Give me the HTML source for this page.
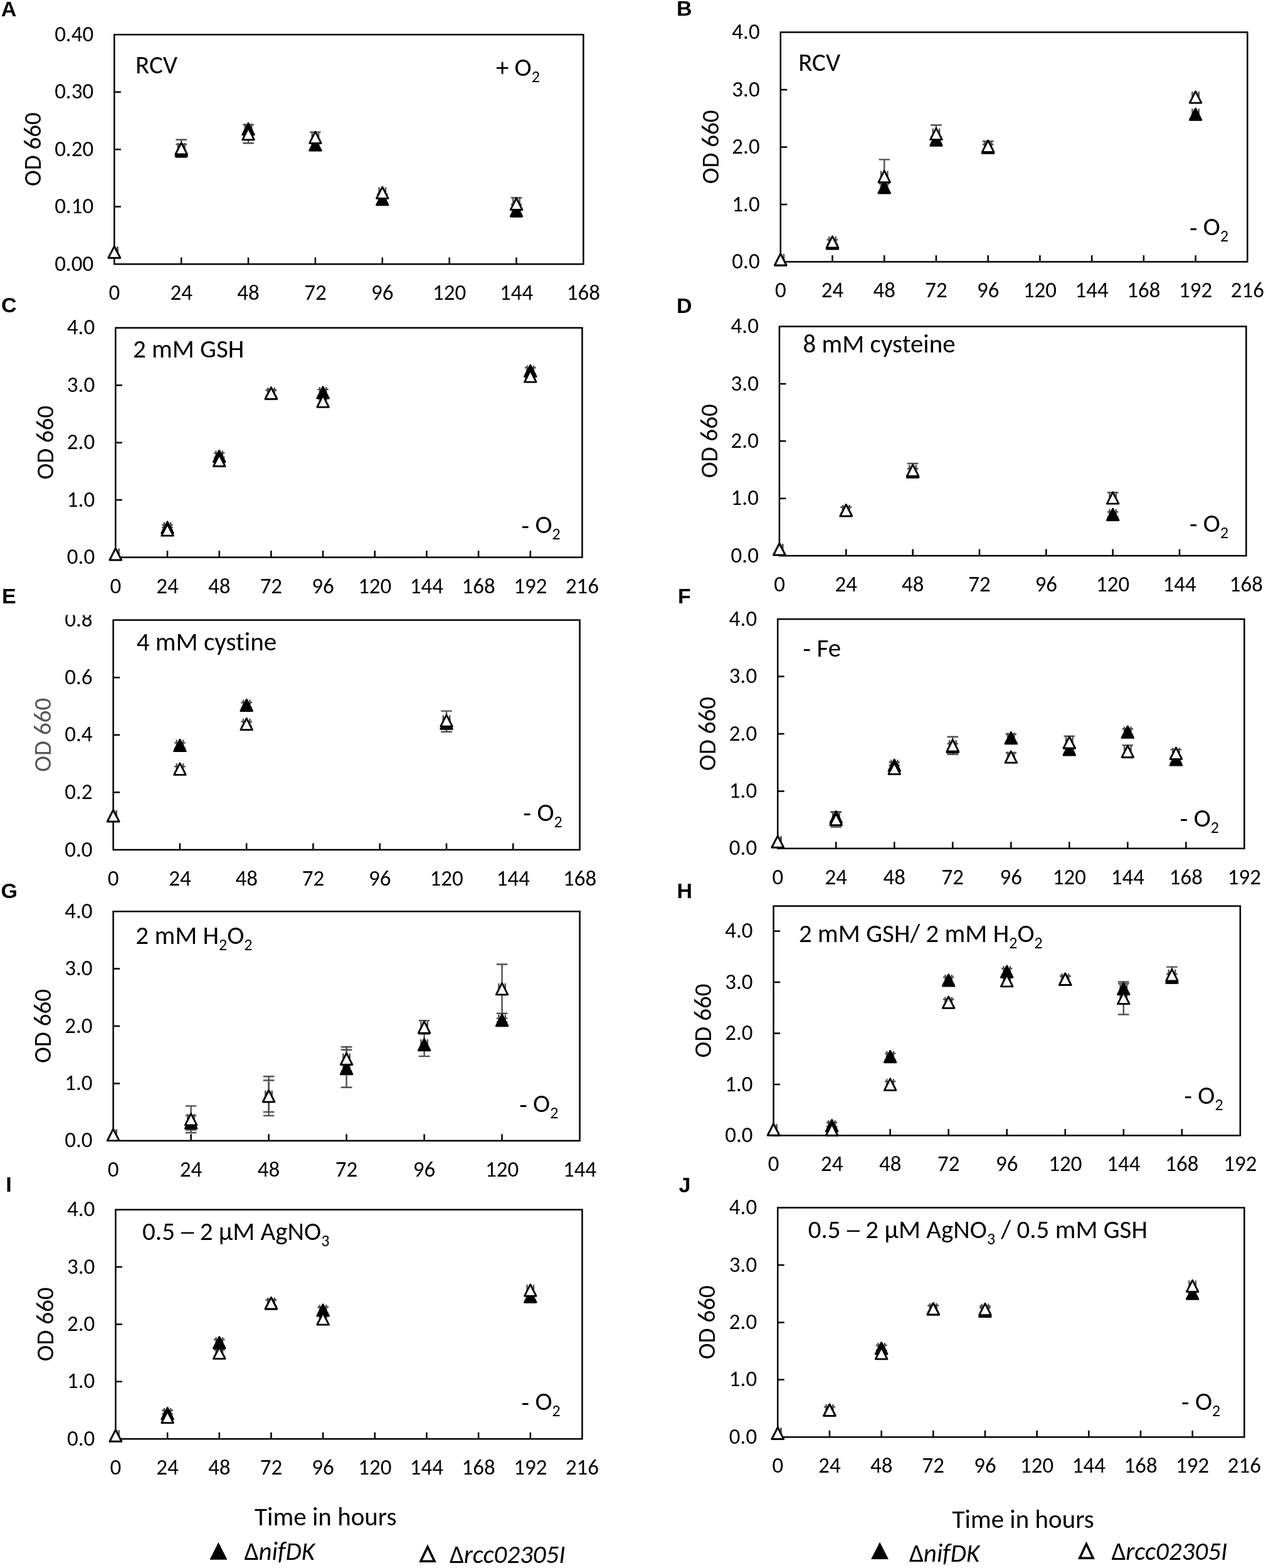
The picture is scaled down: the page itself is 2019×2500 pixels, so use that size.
<!DOCTYPE html>
<html><head><meta charset="utf-8"><title>OD 660 growth curves</title>
<style>html,body{margin:0;padding:0;background:#fff;} svg{display:block;} text{font-variant-ligatures:none;font-feature-settings:'liga' 0,'clig' 0;}</style>
</head><body>
<svg width="2019" height="2500" viewBox="0 0 2019 2500">
<rect width="2019" height="2500" fill="#fff"/>
<text x="1.8" y="25.6" font-size="34" text-anchor="start" fill="#000" font-family="'Liberation Sans', Arial, sans-serif" font-weight="bold">A</text>
<rect x="182.3" y="55.2" width="748.1" height="365.9" fill="none" stroke="#000" stroke-width="2.5" stroke-linejoin="miter"/>
<text x="182.3" y="478.1" font-size="35" text-anchor="middle" fill="#000" font-family="Carlito, 'Liberation Sans', Arial, sans-serif" textLength="17.75" lengthAdjust="spacingAndGlyphs">0</text>
<text x="289.17" y="478.1" font-size="35" text-anchor="middle" fill="#000" font-family="Carlito, 'Liberation Sans', Arial, sans-serif" textLength="35.48" lengthAdjust="spacingAndGlyphs">24</text>
<text x="396.04" y="478.1" font-size="35" text-anchor="middle" fill="#000" font-family="Carlito, 'Liberation Sans', Arial, sans-serif" textLength="35.48" lengthAdjust="spacingAndGlyphs">48</text>
<text x="502.91" y="478.1" font-size="35" text-anchor="middle" fill="#000" font-family="Carlito, 'Liberation Sans', Arial, sans-serif" textLength="35.48" lengthAdjust="spacingAndGlyphs">72</text>
<text x="609.79" y="478.1" font-size="35" text-anchor="middle" fill="#000" font-family="Carlito, 'Liberation Sans', Arial, sans-serif" textLength="35.48" lengthAdjust="spacingAndGlyphs">96</text>
<text x="716.66" y="478.1" font-size="35" text-anchor="middle" fill="#000" font-family="Carlito, 'Liberation Sans', Arial, sans-serif" textLength="53.22" lengthAdjust="spacingAndGlyphs">120</text>
<text x="823.53" y="478.1" font-size="35" text-anchor="middle" fill="#000" font-family="Carlito, 'Liberation Sans', Arial, sans-serif" textLength="53.22" lengthAdjust="spacingAndGlyphs">144</text>
<text x="930.4" y="478.1" font-size="35" text-anchor="middle" fill="#000" font-family="Carlito, 'Liberation Sans', Arial, sans-serif" textLength="53.22" lengthAdjust="spacingAndGlyphs">168</text>
<text x="149.2" y="431.7" font-size="35" text-anchor="end" fill="#000" font-family="Carlito, 'Liberation Sans', Arial, sans-serif" textLength="62.06" lengthAdjust="spacingAndGlyphs">0.00</text>
<text x="149.2" y="340.23" font-size="35" text-anchor="end" fill="#000" font-family="Carlito, 'Liberation Sans', Arial, sans-serif" textLength="62.06" lengthAdjust="spacingAndGlyphs">0.10</text>
<text x="149.2" y="248.75" font-size="35" text-anchor="end" fill="#000" font-family="Carlito, 'Liberation Sans', Arial, sans-serif" textLength="62.06" lengthAdjust="spacingAndGlyphs">0.20</text>
<text x="149.2" y="157.28" font-size="35" text-anchor="end" fill="#000" font-family="Carlito, 'Liberation Sans', Arial, sans-serif" textLength="62.06" lengthAdjust="spacingAndGlyphs">0.30</text>
<text x="149.2" y="65.8" font-size="35" text-anchor="end" fill="#000" font-family="Carlito, 'Liberation Sans', Arial, sans-serif" textLength="62.06" lengthAdjust="spacingAndGlyphs">0.40</text>
<path d="M289.17 421.1V410.6M396.04 421.1V410.6M502.91 421.1V410.6M609.79 421.1V410.6M716.66 421.1V410.6M823.53 421.1V410.6M182.3 329.62H192.8M182.3 238.15H192.8M182.3 146.68H192.8" stroke="#000" stroke-width="2.5" fill="none"/>
<text transform="translate(65.2 238.15) rotate(-90)" font-size="39" text-anchor="middle" fill="#000" font-family="Carlito, 'Liberation Sans', Arial, sans-serif" textLength="117.94" lengthAdjust="spacingAndGlyphs">OD 660</text>
<text x="216.06" y="117" font-size="41" text-anchor="start" fill="#000" font-family="Carlito, 'Liberation Sans', Arial, sans-serif" textLength="67.03" lengthAdjust="spacingAndGlyphs">RCV</text>
<text x="790.9" y="120.5" font-size="41" text-anchor="start" fill="#000" font-family="Carlito, 'Liberation Sans', Arial, sans-serif" textLength="70.03" lengthAdjust="spacingAndGlyphs">+ O<tspan font-size="26" dy="10">2</tspan></text>
<clipPath id="cA"><rect x="182.3" y="55.2" width="748.1" height="365.9"/></clipPath>
<g clip-path="url(#cA)">
<path d="M182.3 402H187.5M187.5 393.2V410.8" stroke="#505050" stroke-width="2.4" fill="none"/>
<path d="M182.3 402H187.5M187.5 393.2V410.8" stroke="#505050" stroke-width="2.4" fill="none"/>
<path d="M283.97 240H294.37M283.97 231.2V248.8M294.37 231.2V248.8M289.17 230V250M280.37 230H297.97M280.37 250H297.97" stroke="#505050" stroke-width="2.4" fill="none"/>
<path d="M283.97 236.8H294.37M283.97 228V245.6M294.37 228V245.6M289.17 222.8V250.8M280.37 222.8H297.97M280.37 250.8H297.97" stroke="#505050" stroke-width="2.4" fill="none"/>
<path d="M390.84 205.7H401.24M390.84 196.9V214.5M401.24 196.9V214.5" stroke="#505050" stroke-width="2.4" fill="none"/>
<path d="M390.84 213.6H401.24M390.84 204.8V222.4M401.24 204.8V222.4M396.04 199V228.2M387.24 199H404.84M387.24 228.2H404.84" stroke="#505050" stroke-width="2.4" fill="none"/>
<path d="M497.71 230.9H508.11M497.71 222.1V239.7M508.11 222.1V239.7" stroke="#505050" stroke-width="2.4" fill="none"/>
<path d="M497.71 219.1H508.11M497.71 210.3V227.9M508.11 210.3V227.9M502.91 210.6V227.6M494.11 210.6H511.71M494.11 227.6H511.71" stroke="#505050" stroke-width="2.4" fill="none"/>
<path d="M604.59 317.7H614.99M604.59 308.9V326.5M614.99 308.9V326.5M609.79 309.7V325.7M600.99 309.7H618.59M600.99 325.7H618.59" stroke="#505050" stroke-width="2.4" fill="none"/>
<path d="M604.59 307.2H614.99M604.59 298.4V316M614.99 298.4V316" stroke="#505050" stroke-width="2.4" fill="none"/>
<path d="M818.33 335.9H828.73M818.33 327.1V344.7M828.73 327.1V344.7M823.53 325.9V345.9M814.73 325.9H832.33M814.73 345.9H832.33" stroke="#505050" stroke-width="2.4" fill="none"/>
<path d="M818.33 325.2H828.73M818.33 316.4V334M828.73 316.4V334M823.53 315.2V335.2M814.73 315.2H832.33M814.73 335.2H832.33" stroke="#505050" stroke-width="2.4" fill="none"/>
</g>
<polygon points="182.3,392.8 191.65,411.2 172.95,411.2" fill="#000" stroke="#000" stroke-width="2.8" stroke-linejoin="round"/>
<polygon points="289.17,230.8 298.52,249.2 279.82,249.2" fill="#000" stroke="#000" stroke-width="2.8" stroke-linejoin="round"/>
<polygon points="396.04,196.5 405.39,214.9 386.69,214.9" fill="#000" stroke="#000" stroke-width="2.8" stroke-linejoin="round"/>
<polygon points="502.91,221.7 512.26,240.1 493.56,240.1" fill="#000" stroke="#000" stroke-width="2.8" stroke-linejoin="round"/>
<polygon points="609.79,308.5 619.14,326.9 600.44,326.9" fill="#000" stroke="#000" stroke-width="2.8" stroke-linejoin="round"/>
<polygon points="823.53,326.7 832.88,345.1 814.18,345.1" fill="#000" stroke="#000" stroke-width="2.8" stroke-linejoin="round"/>
<polygon points="182.3,392.8 191.65,411.2 172.95,411.2" fill="#fff" stroke="#000" stroke-width="2.8" stroke-linejoin="round"/>
<polygon points="289.17,227.6 298.52,246 279.82,246" fill="#fff" stroke="#000" stroke-width="2.8" stroke-linejoin="round"/>
<polygon points="396.04,204.4 405.39,222.8 386.69,222.8" fill="#fff" stroke="#000" stroke-width="2.8" stroke-linejoin="round"/>
<polygon points="502.91,209.9 512.26,228.3 493.56,228.3" fill="#fff" stroke="#000" stroke-width="2.8" stroke-linejoin="round"/>
<polygon points="609.79,298 619.14,316.4 600.44,316.4" fill="#fff" stroke="#000" stroke-width="2.8" stroke-linejoin="round"/>
<polygon points="823.53,316 832.88,334.4 814.18,334.4" fill="#fff" stroke="#000" stroke-width="2.8" stroke-linejoin="round"/>
<text x="1078.93" y="25.3" font-size="34" text-anchor="start" fill="#000" font-family="'Liberation Sans', Arial, sans-serif" font-weight="bold">B</text>
<rect x="1244.8" y="51.4" width="744.6" height="366" fill="none" stroke="#000" stroke-width="2.5" stroke-linejoin="miter"/>
<text x="1244.8" y="474.4" font-size="35" text-anchor="middle" fill="#000" font-family="Carlito, 'Liberation Sans', Arial, sans-serif" textLength="17.75" lengthAdjust="spacingAndGlyphs">0</text>
<text x="1327.53" y="474.4" font-size="35" text-anchor="middle" fill="#000" font-family="Carlito, 'Liberation Sans', Arial, sans-serif" textLength="35.48" lengthAdjust="spacingAndGlyphs">24</text>
<text x="1410.27" y="474.4" font-size="35" text-anchor="middle" fill="#000" font-family="Carlito, 'Liberation Sans', Arial, sans-serif" textLength="35.48" lengthAdjust="spacingAndGlyphs">48</text>
<text x="1493" y="474.4" font-size="35" text-anchor="middle" fill="#000" font-family="Carlito, 'Liberation Sans', Arial, sans-serif" textLength="35.48" lengthAdjust="spacingAndGlyphs">72</text>
<text x="1575.73" y="474.4" font-size="35" text-anchor="middle" fill="#000" font-family="Carlito, 'Liberation Sans', Arial, sans-serif" textLength="35.48" lengthAdjust="spacingAndGlyphs">96</text>
<text x="1658.47" y="474.4" font-size="35" text-anchor="middle" fill="#000" font-family="Carlito, 'Liberation Sans', Arial, sans-serif" textLength="53.22" lengthAdjust="spacingAndGlyphs">120</text>
<text x="1741.2" y="474.4" font-size="35" text-anchor="middle" fill="#000" font-family="Carlito, 'Liberation Sans', Arial, sans-serif" textLength="53.22" lengthAdjust="spacingAndGlyphs">144</text>
<text x="1823.93" y="474.4" font-size="35" text-anchor="middle" fill="#000" font-family="Carlito, 'Liberation Sans', Arial, sans-serif" textLength="53.22" lengthAdjust="spacingAndGlyphs">168</text>
<text x="1906.67" y="474.4" font-size="35" text-anchor="middle" fill="#000" font-family="Carlito, 'Liberation Sans', Arial, sans-serif" textLength="53.22" lengthAdjust="spacingAndGlyphs">192</text>
<text x="1989.4" y="474.4" font-size="35" text-anchor="middle" fill="#000" font-family="Carlito, 'Liberation Sans', Arial, sans-serif" textLength="53.22" lengthAdjust="spacingAndGlyphs">216</text>
<text x="1211.7" y="428" font-size="35" text-anchor="end" fill="#000" font-family="Carlito, 'Liberation Sans', Arial, sans-serif" textLength="44.33" lengthAdjust="spacingAndGlyphs">0.0</text>
<text x="1211.7" y="336.5" font-size="35" text-anchor="end" fill="#000" font-family="Carlito, 'Liberation Sans', Arial, sans-serif" textLength="44.33" lengthAdjust="spacingAndGlyphs">1.0</text>
<text x="1211.7" y="245" font-size="35" text-anchor="end" fill="#000" font-family="Carlito, 'Liberation Sans', Arial, sans-serif" textLength="44.33" lengthAdjust="spacingAndGlyphs">2.0</text>
<text x="1211.7" y="153.5" font-size="35" text-anchor="end" fill="#000" font-family="Carlito, 'Liberation Sans', Arial, sans-serif" textLength="44.33" lengthAdjust="spacingAndGlyphs">3.0</text>
<text x="1211.7" y="62" font-size="35" text-anchor="end" fill="#000" font-family="Carlito, 'Liberation Sans', Arial, sans-serif" textLength="44.33" lengthAdjust="spacingAndGlyphs">4.0</text>
<path d="M1327.53 417.4V406.9M1410.27 417.4V406.9M1493 417.4V406.9M1575.73 417.4V406.9M1658.47 417.4V406.9M1741.2 417.4V406.9M1823.93 417.4V406.9M1906.67 417.4V406.9M1244.8 325.9H1255.3M1244.8 234.4H1255.3M1244.8 142.9H1255.3" stroke="#000" stroke-width="2.5" fill="none"/>
<text transform="translate(1146 234.4) rotate(-90)" font-size="39" text-anchor="middle" fill="#000" font-family="Carlito, 'Liberation Sans', Arial, sans-serif" textLength="117.94" lengthAdjust="spacingAndGlyphs">OD 660</text>
<text x="1273.16" y="112.8" font-size="41" text-anchor="start" fill="#000" font-family="Carlito, 'Liberation Sans', Arial, sans-serif" textLength="67.03" lengthAdjust="spacingAndGlyphs">RCV</text>
<text x="1897" y="375.1" font-size="41" text-anchor="start" fill="#000" font-family="Carlito, 'Liberation Sans', Arial, sans-serif" textLength="62.17" lengthAdjust="spacingAndGlyphs"><tspan dy="1.8">-</tspan><tspan dy="-1.8"> O</tspan><tspan font-size="26" dy="10">2</tspan></text>
<clipPath id="cB"><rect x="1244.8" y="51.4" width="744.6" height="366"/></clipPath>
<g clip-path="url(#cB)">
<path d="M1244.8 413.8H1250M1250 405V422.6" stroke="#505050" stroke-width="2.4" fill="none"/>
<path d="M1244.8 413.8H1250M1250 405V422.6" stroke="#505050" stroke-width="2.4" fill="none"/>
<path d="M1322.33 387.8H1332.73M1322.33 379V396.6M1332.73 379V396.6" stroke="#505050" stroke-width="2.4" fill="none"/>
<path d="M1322.33 385.8H1332.73M1322.33 377V394.6M1332.73 377V394.6M1327.53 382.3V389.3M1318.73 382.3H1336.33M1318.73 389.3H1336.33" stroke="#505050" stroke-width="2.4" fill="none"/>
<path d="M1405.07 298.7H1415.47M1405.07 289.9V307.5M1415.47 289.9V307.5M1410.27 292.7V304.7M1401.47 292.7H1419.07M1401.47 304.7H1419.07" stroke="#505050" stroke-width="2.4" fill="none"/>
<path d="M1405.07 281.4H1415.47M1405.07 272.6V290.2M1415.47 272.6V290.2M1410.27 254.4V308.4M1401.47 254.4H1419.07M1401.47 308.4H1419.07" stroke="#505050" stroke-width="2.4" fill="none"/>
<path d="M1487.8 223.1H1498.2M1487.8 214.3V231.9M1498.2 214.3V231.9M1493 218.1V228.1M1484.2 218.1H1501.8M1484.2 228.1H1501.8" stroke="#505050" stroke-width="2.4" fill="none"/>
<path d="M1487.8 213.5H1498.2M1487.8 204.7V222.3M1498.2 204.7V222.3M1493 199.5V227.5M1484.2 199.5H1501.8M1484.2 227.5H1501.8" stroke="#505050" stroke-width="2.4" fill="none"/>
<path d="M1570.53 235.2H1580.93M1570.53 226.4V244M1580.93 226.4V244M1575.73 230.2V240.2M1566.93 230.2H1584.53M1566.93 240.2H1584.53" stroke="#505050" stroke-width="2.4" fill="none"/>
<path d="M1570.53 233.2H1580.93M1570.53 224.4V242M1580.93 224.4V242M1575.73 225.2V241.2M1566.93 225.2H1584.53M1566.93 241.2H1584.53" stroke="#505050" stroke-width="2.4" fill="none"/>
<path d="M1901.47 182.1H1911.87M1901.47 173.3V190.9M1911.87 173.3V190.9" stroke="#505050" stroke-width="2.4" fill="none"/>
<path d="M1901.47 154.9H1911.87M1901.47 146.1V163.7M1911.87 146.1V163.7" stroke="#505050" stroke-width="2.4" fill="none"/>
</g>
<polygon points="1244.8,404.6 1254.15,423 1235.45,423" fill="#000" stroke="#000" stroke-width="2.8" stroke-linejoin="round"/>
<polygon points="1327.53,378.6 1336.88,397 1318.18,397" fill="#000" stroke="#000" stroke-width="2.8" stroke-linejoin="round"/>
<polygon points="1410.27,289.5 1419.62,307.9 1400.92,307.9" fill="#000" stroke="#000" stroke-width="2.8" stroke-linejoin="round"/>
<polygon points="1493,213.9 1502.35,232.3 1483.65,232.3" fill="#000" stroke="#000" stroke-width="2.8" stroke-linejoin="round"/>
<polygon points="1575.73,226 1585.08,244.4 1566.38,244.4" fill="#000" stroke="#000" stroke-width="2.8" stroke-linejoin="round"/>
<polygon points="1906.67,172.9 1916.02,191.3 1897.32,191.3" fill="#000" stroke="#000" stroke-width="2.8" stroke-linejoin="round"/>
<polygon points="1244.8,404.6 1254.15,423 1235.45,423" fill="#fff" stroke="#000" stroke-width="2.8" stroke-linejoin="round"/>
<polygon points="1327.53,376.6 1336.88,395 1318.18,395" fill="#fff" stroke="#000" stroke-width="2.8" stroke-linejoin="round"/>
<polygon points="1410.27,272.2 1419.62,290.6 1400.92,290.6" fill="#fff" stroke="#000" stroke-width="2.8" stroke-linejoin="round"/>
<polygon points="1493,204.3 1502.35,222.7 1483.65,222.7" fill="#fff" stroke="#000" stroke-width="2.8" stroke-linejoin="round"/>
<polygon points="1575.73,224 1585.08,242.4 1566.38,242.4" fill="#fff" stroke="#000" stroke-width="2.8" stroke-linejoin="round"/>
<polygon points="1906.67,145.7 1916.02,164.1 1897.32,164.1" fill="#fff" stroke="#000" stroke-width="2.8" stroke-linejoin="round"/>
<text x="2.11" y="498.4" font-size="34" text-anchor="start" fill="#000" font-family="'Liberation Sans', Arial, sans-serif" font-weight="bold">C</text>
<rect x="184.3" y="522.7" width="744.2" height="365.9" fill="none" stroke="#000" stroke-width="2.5" stroke-linejoin="miter"/>
<text x="184.3" y="945.6" font-size="35" text-anchor="middle" fill="#000" font-family="Carlito, 'Liberation Sans', Arial, sans-serif" textLength="17.75" lengthAdjust="spacingAndGlyphs">0</text>
<text x="266.99" y="945.6" font-size="35" text-anchor="middle" fill="#000" font-family="Carlito, 'Liberation Sans', Arial, sans-serif" textLength="35.48" lengthAdjust="spacingAndGlyphs">24</text>
<text x="349.68" y="945.6" font-size="35" text-anchor="middle" fill="#000" font-family="Carlito, 'Liberation Sans', Arial, sans-serif" textLength="35.48" lengthAdjust="spacingAndGlyphs">48</text>
<text x="432.37" y="945.6" font-size="35" text-anchor="middle" fill="#000" font-family="Carlito, 'Liberation Sans', Arial, sans-serif" textLength="35.48" lengthAdjust="spacingAndGlyphs">72</text>
<text x="515.06" y="945.6" font-size="35" text-anchor="middle" fill="#000" font-family="Carlito, 'Liberation Sans', Arial, sans-serif" textLength="35.48" lengthAdjust="spacingAndGlyphs">96</text>
<text x="597.74" y="945.6" font-size="35" text-anchor="middle" fill="#000" font-family="Carlito, 'Liberation Sans', Arial, sans-serif" textLength="53.22" lengthAdjust="spacingAndGlyphs">120</text>
<text x="680.43" y="945.6" font-size="35" text-anchor="middle" fill="#000" font-family="Carlito, 'Liberation Sans', Arial, sans-serif" textLength="53.22" lengthAdjust="spacingAndGlyphs">144</text>
<text x="763.12" y="945.6" font-size="35" text-anchor="middle" fill="#000" font-family="Carlito, 'Liberation Sans', Arial, sans-serif" textLength="53.22" lengthAdjust="spacingAndGlyphs">168</text>
<text x="845.81" y="945.6" font-size="35" text-anchor="middle" fill="#000" font-family="Carlito, 'Liberation Sans', Arial, sans-serif" textLength="53.22" lengthAdjust="spacingAndGlyphs">192</text>
<text x="928.5" y="945.6" font-size="35" text-anchor="middle" fill="#000" font-family="Carlito, 'Liberation Sans', Arial, sans-serif" textLength="53.22" lengthAdjust="spacingAndGlyphs">216</text>
<text x="151.2" y="899.2" font-size="35" text-anchor="end" fill="#000" font-family="Carlito, 'Liberation Sans', Arial, sans-serif" textLength="44.33" lengthAdjust="spacingAndGlyphs">0.0</text>
<text x="151.2" y="807.73" font-size="35" text-anchor="end" fill="#000" font-family="Carlito, 'Liberation Sans', Arial, sans-serif" textLength="44.33" lengthAdjust="spacingAndGlyphs">1.0</text>
<text x="151.2" y="716.25" font-size="35" text-anchor="end" fill="#000" font-family="Carlito, 'Liberation Sans', Arial, sans-serif" textLength="44.33" lengthAdjust="spacingAndGlyphs">2.0</text>
<text x="151.2" y="624.78" font-size="35" text-anchor="end" fill="#000" font-family="Carlito, 'Liberation Sans', Arial, sans-serif" textLength="44.33" lengthAdjust="spacingAndGlyphs">3.0</text>
<text x="151.2" y="533.3" font-size="35" text-anchor="end" fill="#000" font-family="Carlito, 'Liberation Sans', Arial, sans-serif" textLength="44.33" lengthAdjust="spacingAndGlyphs">4.0</text>
<path d="M266.99 888.6V878.1M349.68 888.6V878.1M432.37 888.6V878.1M515.06 888.6V878.1M597.74 888.6V878.1M680.43 888.6V878.1M763.12 888.6V878.1M845.81 888.6V878.1M184.3 797.12H194.8M184.3 705.65H194.8M184.3 614.18H194.8" stroke="#000" stroke-width="2.5" fill="none"/>
<text transform="translate(85.1 705.65) rotate(-90)" font-size="39" text-anchor="middle" fill="#000" font-family="Carlito, 'Liberation Sans', Arial, sans-serif" textLength="117.94" lengthAdjust="spacingAndGlyphs">OD 660</text>
<text x="211.96" y="570.3" font-size="41" text-anchor="start" fill="#000" font-family="Carlito, 'Liberation Sans', Arial, sans-serif" textLength="177.38" lengthAdjust="spacingAndGlyphs">2 mM GSH</text>
<text x="831.6" y="850.4" font-size="41" text-anchor="start" fill="#000" font-family="Carlito, 'Liberation Sans', Arial, sans-serif" textLength="62.17" lengthAdjust="spacingAndGlyphs"><tspan dy="1.8">-</tspan><tspan dy="-1.8"> O</tspan><tspan font-size="26" dy="10">2</tspan></text>
<clipPath id="cC"><rect x="184.3" y="522.7" width="744.2" height="365.9"/></clipPath>
<g clip-path="url(#cC)">
<path d="M184.3 883.6H189.5M189.5 874.8V892.4" stroke="#505050" stroke-width="2.4" fill="none"/>
<path d="M184.3 883.6H189.5M189.5 874.8V892.4" stroke="#505050" stroke-width="2.4" fill="none"/>
<path d="M261.79 841H272.19M261.79 832.2V849.8M272.19 832.2V849.8M266.99 837V845M258.19 837H275.79M258.19 845H275.79" stroke="#505050" stroke-width="2.4" fill="none"/>
<path d="M261.79 845H272.19M261.79 836.2V853.8M272.19 836.2V853.8M266.99 841V849M258.19 841H275.79M258.19 849H275.79" stroke="#505050" stroke-width="2.4" fill="none"/>
<path d="M344.48 727.4H354.88M344.48 718.6V736.2M354.88 718.6V736.2M349.68 722.4V732.4M340.88 722.4H358.48M340.88 732.4H358.48" stroke="#505050" stroke-width="2.4" fill="none"/>
<path d="M344.48 734.3H354.88M344.48 725.5V743.1M354.88 725.5V743.1M349.68 729.3V739.3M340.88 729.3H358.48M340.88 739.3H358.48" stroke="#505050" stroke-width="2.4" fill="none"/>
<path d="M427.17 627H437.57M427.17 618.2V635.8M437.57 618.2V635.8M432.37 622V632M423.57 622H441.17M423.57 632H441.17" stroke="#505050" stroke-width="2.4" fill="none"/>
<path d="M427.17 627H437.57M427.17 618.2V635.8M437.57 618.2V635.8M432.37 622V632M423.57 622H441.17M423.57 632H441.17" stroke="#505050" stroke-width="2.4" fill="none"/>
<path d="M509.86 625.9H520.26M509.86 617.1V634.7M520.26 617.1V634.7M515.06 620.9V630.9M506.26 620.9H523.86M506.26 630.9H523.86" stroke="#505050" stroke-width="2.4" fill="none"/>
<path d="M509.86 639.9H520.26M509.86 631.1V648.7M520.26 631.1V648.7M515.06 634.9V644.9M506.26 634.9H523.86M506.26 644.9H523.86" stroke="#505050" stroke-width="2.4" fill="none"/>
<path d="M840.61 591.3H851.01M840.61 582.5V600.1M851.01 582.5V600.1M845.81 586.3V596.3M837.01 586.3H854.61M837.01 596.3H854.61" stroke="#505050" stroke-width="2.4" fill="none"/>
<path d="M840.61 600H851.01M840.61 591.2V608.8M851.01 591.2V608.8M845.81 596V604M837.01 596H854.61M837.01 604H854.61" stroke="#505050" stroke-width="2.4" fill="none"/>
</g>
<polygon points="184.3,874.4 193.65,892.8 174.95,892.8" fill="#000" stroke="#000" stroke-width="2.8" stroke-linejoin="round"/>
<polygon points="266.99,831.8 276.34,850.2 257.64,850.2" fill="#000" stroke="#000" stroke-width="2.8" stroke-linejoin="round"/>
<polygon points="349.68,718.2 359.03,736.6 340.33,736.6" fill="#000" stroke="#000" stroke-width="2.8" stroke-linejoin="round"/>
<polygon points="432.37,617.8 441.72,636.2 423.02,636.2" fill="#000" stroke="#000" stroke-width="2.8" stroke-linejoin="round"/>
<polygon points="515.06,616.7 524.41,635.1 505.71,635.1" fill="#000" stroke="#000" stroke-width="2.8" stroke-linejoin="round"/>
<polygon points="845.81,582.1 855.16,600.5 836.46,600.5" fill="#000" stroke="#000" stroke-width="2.8" stroke-linejoin="round"/>
<polygon points="184.3,874.4 193.65,892.8 174.95,892.8" fill="#fff" stroke="#000" stroke-width="2.8" stroke-linejoin="round"/>
<polygon points="266.99,835.8 276.34,854.2 257.64,854.2" fill="#fff" stroke="#000" stroke-width="2.8" stroke-linejoin="round"/>
<polygon points="349.68,725.1 359.03,743.5 340.33,743.5" fill="#fff" stroke="#000" stroke-width="2.8" stroke-linejoin="round"/>
<polygon points="432.37,617.8 441.72,636.2 423.02,636.2" fill="#fff" stroke="#000" stroke-width="2.8" stroke-linejoin="round"/>
<polygon points="515.06,630.7 524.41,649.1 505.71,649.1" fill="#fff" stroke="#000" stroke-width="2.8" stroke-linejoin="round"/>
<polygon points="845.81,590.8 855.16,609.2 836.46,609.2" fill="#fff" stroke="#000" stroke-width="2.8" stroke-linejoin="round"/>
<text x="1078.93" y="498.8" font-size="34" text-anchor="start" fill="#000" font-family="'Liberation Sans', Arial, sans-serif" font-weight="bold">D</text>
<rect x="1243" y="520.5" width="744.4" height="365.6" fill="none" stroke="#000" stroke-width="2.5" stroke-linejoin="miter"/>
<text x="1243" y="943.1" font-size="35" text-anchor="middle" fill="#000" font-family="Carlito, 'Liberation Sans', Arial, sans-serif" textLength="17.75" lengthAdjust="spacingAndGlyphs">0</text>
<text x="1349.34" y="943.1" font-size="35" text-anchor="middle" fill="#000" font-family="Carlito, 'Liberation Sans', Arial, sans-serif" textLength="35.48" lengthAdjust="spacingAndGlyphs">24</text>
<text x="1455.69" y="943.1" font-size="35" text-anchor="middle" fill="#000" font-family="Carlito, 'Liberation Sans', Arial, sans-serif" textLength="35.48" lengthAdjust="spacingAndGlyphs">48</text>
<text x="1562.03" y="943.1" font-size="35" text-anchor="middle" fill="#000" font-family="Carlito, 'Liberation Sans', Arial, sans-serif" textLength="35.48" lengthAdjust="spacingAndGlyphs">72</text>
<text x="1668.37" y="943.1" font-size="35" text-anchor="middle" fill="#000" font-family="Carlito, 'Liberation Sans', Arial, sans-serif" textLength="35.48" lengthAdjust="spacingAndGlyphs">96</text>
<text x="1774.71" y="943.1" font-size="35" text-anchor="middle" fill="#000" font-family="Carlito, 'Liberation Sans', Arial, sans-serif" textLength="53.22" lengthAdjust="spacingAndGlyphs">120</text>
<text x="1881.06" y="943.1" font-size="35" text-anchor="middle" fill="#000" font-family="Carlito, 'Liberation Sans', Arial, sans-serif" textLength="53.22" lengthAdjust="spacingAndGlyphs">144</text>
<text x="1987.4" y="943.1" font-size="35" text-anchor="middle" fill="#000" font-family="Carlito, 'Liberation Sans', Arial, sans-serif" textLength="53.22" lengthAdjust="spacingAndGlyphs">168</text>
<text x="1209.9" y="896.7" font-size="35" text-anchor="end" fill="#000" font-family="Carlito, 'Liberation Sans', Arial, sans-serif" textLength="44.33" lengthAdjust="spacingAndGlyphs">0.0</text>
<text x="1209.9" y="805.3" font-size="35" text-anchor="end" fill="#000" font-family="Carlito, 'Liberation Sans', Arial, sans-serif" textLength="44.33" lengthAdjust="spacingAndGlyphs">1.0</text>
<text x="1209.9" y="713.9" font-size="35" text-anchor="end" fill="#000" font-family="Carlito, 'Liberation Sans', Arial, sans-serif" textLength="44.33" lengthAdjust="spacingAndGlyphs">2.0</text>
<text x="1209.9" y="622.5" font-size="35" text-anchor="end" fill="#000" font-family="Carlito, 'Liberation Sans', Arial, sans-serif" textLength="44.33" lengthAdjust="spacingAndGlyphs">3.0</text>
<text x="1209.9" y="531.1" font-size="35" text-anchor="end" fill="#000" font-family="Carlito, 'Liberation Sans', Arial, sans-serif" textLength="44.33" lengthAdjust="spacingAndGlyphs">4.0</text>
<path d="M1349.34 886.1V875.6M1455.69 886.1V875.6M1562.03 886.1V875.6M1668.37 886.1V875.6M1774.71 886.1V875.6M1881.06 886.1V875.6M1243 794.7H1253.5M1243 703.3H1253.5M1243 611.9H1253.5" stroke="#000" stroke-width="2.5" fill="none"/>
<text transform="translate(1143.7 703.3) rotate(-90)" font-size="39" text-anchor="middle" fill="#000" font-family="Carlito, 'Liberation Sans', Arial, sans-serif" textLength="117.94" lengthAdjust="spacingAndGlyphs">OD 660</text>
<text x="1280.46" y="561.6" font-size="41" text-anchor="start" fill="#000" font-family="Carlito, 'Liberation Sans', Arial, sans-serif" textLength="243.27" lengthAdjust="spacingAndGlyphs">8 mM cysteine</text>
<text x="1897" y="847.5" font-size="41" text-anchor="start" fill="#000" font-family="Carlito, 'Liberation Sans', Arial, sans-serif" textLength="62.17" lengthAdjust="spacingAndGlyphs"><tspan dy="1.8">-</tspan><tspan dy="-1.8"> O</tspan><tspan font-size="26" dy="10">2</tspan></text>
<clipPath id="cD"><rect x="1243" y="520.5" width="744.4" height="365.6"/></clipPath>
<g clip-path="url(#cD)">
<path d="M1243 875.7H1248.2M1248.2 866.9V884.5" stroke="#505050" stroke-width="2.4" fill="none"/>
<path d="M1243 875.7H1248.2M1248.2 866.9V884.5" stroke="#505050" stroke-width="2.4" fill="none"/>
<path d="M1344.14 813.7H1354.54M1344.14 804.9V822.5M1354.54 804.9V822.5M1349.34 808.7V818.7M1340.54 808.7H1358.14M1340.54 818.7H1358.14" stroke="#505050" stroke-width="2.4" fill="none"/>
<path d="M1344.14 813.7H1354.54M1344.14 804.9V822.5M1354.54 804.9V822.5M1349.34 808.7V818.7M1340.54 808.7H1358.14M1340.54 818.7H1358.14" stroke="#505050" stroke-width="2.4" fill="none"/>
<path d="M1450.49 752.2H1460.89M1450.49 743.4V761M1460.89 743.4V761M1455.69 747.2V757.2M1446.89 747.2H1464.49M1446.89 757.2H1464.49" stroke="#505050" stroke-width="2.4" fill="none"/>
<path d="M1450.49 750H1460.89M1450.49 741.2V758.8M1460.89 741.2V758.8M1455.69 739V761M1446.89 739H1464.49M1446.89 761H1464.49" stroke="#505050" stroke-width="2.4" fill="none"/>
<path d="M1769.51 820.3H1779.91M1769.51 811.5V829.1M1779.91 811.5V829.1M1774.71 816.3V824.3M1765.91 816.3H1783.51M1765.91 824.3H1783.51" stroke="#505050" stroke-width="2.4" fill="none"/>
<path d="M1769.51 794H1779.91M1769.51 785.2V802.8M1779.91 785.2V802.8M1774.71 785.3V802.7M1765.91 785.3H1783.51M1765.91 802.7H1783.51" stroke="#505050" stroke-width="2.4" fill="none"/>
</g>
<polygon points="1243,866.5 1252.35,884.9 1233.65,884.9" fill="#000" stroke="#000" stroke-width="2.8" stroke-linejoin="round"/>
<polygon points="1349.34,804.5 1358.69,822.9 1339.99,822.9" fill="#000" stroke="#000" stroke-width="2.8" stroke-linejoin="round"/>
<polygon points="1455.69,743 1465.04,761.4 1446.34,761.4" fill="#000" stroke="#000" stroke-width="2.8" stroke-linejoin="round"/>
<polygon points="1774.71,811.1 1784.06,829.5 1765.36,829.5" fill="#000" stroke="#000" stroke-width="2.8" stroke-linejoin="round"/>
<polygon points="1243,866.5 1252.35,884.9 1233.65,884.9" fill="#fff" stroke="#000" stroke-width="2.8" stroke-linejoin="round"/>
<polygon points="1349.34,804.5 1358.69,822.9 1339.99,822.9" fill="#fff" stroke="#000" stroke-width="2.8" stroke-linejoin="round"/>
<polygon points="1455.69,740.8 1465.04,759.2 1446.34,759.2" fill="#fff" stroke="#000" stroke-width="2.8" stroke-linejoin="round"/>
<polygon points="1774.71,784.8 1784.06,803.2 1765.36,803.2" fill="#fff" stroke="#000" stroke-width="2.8" stroke-linejoin="round"/>
<text x="2.93" y="962.1" font-size="34" text-anchor="start" fill="#000" font-family="'Liberation Sans', Arial, sans-serif" font-weight="bold">E</text>
<rect x="180.6" y="988.6" width="744" height="366.3" fill="none" stroke="#000" stroke-width="2.5" stroke-linejoin="miter"/>
<text x="180.6" y="1411.9" font-size="35" text-anchor="middle" fill="#000" font-family="Carlito, 'Liberation Sans', Arial, sans-serif" textLength="17.75" lengthAdjust="spacingAndGlyphs">0</text>
<text x="286.89" y="1411.9" font-size="35" text-anchor="middle" fill="#000" font-family="Carlito, 'Liberation Sans', Arial, sans-serif" textLength="35.48" lengthAdjust="spacingAndGlyphs">24</text>
<text x="393.17" y="1411.9" font-size="35" text-anchor="middle" fill="#000" font-family="Carlito, 'Liberation Sans', Arial, sans-serif" textLength="35.48" lengthAdjust="spacingAndGlyphs">48</text>
<text x="499.46" y="1411.9" font-size="35" text-anchor="middle" fill="#000" font-family="Carlito, 'Liberation Sans', Arial, sans-serif" textLength="35.48" lengthAdjust="spacingAndGlyphs">72</text>
<text x="605.74" y="1411.9" font-size="35" text-anchor="middle" fill="#000" font-family="Carlito, 'Liberation Sans', Arial, sans-serif" textLength="35.48" lengthAdjust="spacingAndGlyphs">96</text>
<text x="712.03" y="1411.9" font-size="35" text-anchor="middle" fill="#000" font-family="Carlito, 'Liberation Sans', Arial, sans-serif" textLength="53.22" lengthAdjust="spacingAndGlyphs">120</text>
<text x="818.31" y="1411.9" font-size="35" text-anchor="middle" fill="#000" font-family="Carlito, 'Liberation Sans', Arial, sans-serif" textLength="53.22" lengthAdjust="spacingAndGlyphs">144</text>
<text x="924.6" y="1411.9" font-size="35" text-anchor="middle" fill="#000" font-family="Carlito, 'Liberation Sans', Arial, sans-serif" textLength="53.22" lengthAdjust="spacingAndGlyphs">168</text>
<text x="147.5" y="1365.5" font-size="35" text-anchor="end" fill="#000" font-family="Carlito, 'Liberation Sans', Arial, sans-serif" textLength="44.33" lengthAdjust="spacingAndGlyphs">0.0</text>
<text x="147.5" y="1273.92" font-size="35" text-anchor="end" fill="#000" font-family="Carlito, 'Liberation Sans', Arial, sans-serif" textLength="44.33" lengthAdjust="spacingAndGlyphs">0.2</text>
<text x="147.5" y="1182.35" font-size="35" text-anchor="end" fill="#000" font-family="Carlito, 'Liberation Sans', Arial, sans-serif" textLength="44.33" lengthAdjust="spacingAndGlyphs">0.4</text>
<text x="147.5" y="1090.78" font-size="35" text-anchor="end" fill="#000" font-family="Carlito, 'Liberation Sans', Arial, sans-serif" textLength="44.33" lengthAdjust="spacingAndGlyphs">0.6</text>
<text x="147.5" y="999.2" font-size="35" text-anchor="end" fill="#000" font-family="Carlito, 'Liberation Sans', Arial, sans-serif" textLength="44.33" lengthAdjust="spacingAndGlyphs">0.8</text>
<path d="M286.89 1354.9V1344.4M393.17 1354.9V1344.4M499.46 1354.9V1344.4M605.74 1354.9V1344.4M712.03 1354.9V1344.4M818.31 1354.9V1344.4M180.6 1263.33H191.1M180.6 1171.75H191.1M180.6 1080.18H191.1" stroke="#000" stroke-width="2.5" fill="none"/>
<text transform="translate(81 1171.75) rotate(-90)" font-size="39" text-anchor="middle" fill="#555555" font-family="Carlito, 'Liberation Sans', Arial, sans-serif" textLength="117.94" lengthAdjust="spacingAndGlyphs">OD 660</text>
<text x="217.8" y="1037.2" font-size="41" text-anchor="start" fill="#000" font-family="Carlito, 'Liberation Sans', Arial, sans-serif" textLength="223.31" lengthAdjust="spacingAndGlyphs">4 mM cystine</text>
<text x="834.6" y="1308.6" font-size="41" text-anchor="start" fill="#000" font-family="Carlito, 'Liberation Sans', Arial, sans-serif" textLength="62.17" lengthAdjust="spacingAndGlyphs"><tspan dy="1.8">-</tspan><tspan dy="-1.8"> O</tspan><tspan font-size="26" dy="10">2</tspan></text>
<clipPath id="cE"><rect x="180.6" y="988.6" width="744" height="366.3"/></clipPath>
<g clip-path="url(#cE)">
<path d="M180.6 1300.7H185.8M185.8 1291.9V1309.5" stroke="#505050" stroke-width="2.4" fill="none"/>
<path d="M180.6 1300.7H185.8M185.8 1291.9V1309.5" stroke="#505050" stroke-width="2.4" fill="none"/>
<path d="M281.69 1188.4H292.09M281.69 1179.6V1197.2M292.09 1179.6V1197.2M286.89 1184.4V1192.4M278.09 1184.4H295.69M278.09 1192.4H295.69" stroke="#505050" stroke-width="2.4" fill="none"/>
<path d="M281.69 1226.1H292.09M281.69 1217.3V1234.9M292.09 1217.3V1234.9M286.89 1222.1V1230.1M278.09 1222.1H295.69M278.09 1230.1H295.69" stroke="#505050" stroke-width="2.4" fill="none"/>
<path d="M387.97 1124.3H398.37M387.97 1115.5V1133.1M398.37 1115.5V1133.1M393.17 1120.3V1128.3M384.37 1120.3H401.97M384.37 1128.3H401.97" stroke="#505050" stroke-width="2.4" fill="none"/>
<path d="M387.97 1154.5H398.37M387.97 1145.7V1163.3M398.37 1145.7V1163.3M393.17 1150.5V1158.5M384.37 1150.5H401.97M384.37 1158.5H401.97" stroke="#505050" stroke-width="2.4" fill="none"/>
<path d="M706.83 1153.2H717.23M706.83 1144.4V1162M717.23 1144.4V1162" stroke="#505050" stroke-width="2.4" fill="none"/>
<path d="M706.83 1149H717.23M706.83 1140.2V1157.8M717.23 1140.2V1157.8M712.03 1133.6V1166.8M703.23 1133.6H720.83M703.23 1166.8H720.83" stroke="#505050" stroke-width="2.4" fill="none"/>
</g>
<polygon points="180.6,1291.5 189.95,1309.9 171.25,1309.9" fill="#000" stroke="#000" stroke-width="2.8" stroke-linejoin="round"/>
<polygon points="286.89,1179.2 296.24,1197.6 277.54,1197.6" fill="#000" stroke="#000" stroke-width="2.8" stroke-linejoin="round"/>
<polygon points="393.17,1115.1 402.52,1133.5 383.82,1133.5" fill="#000" stroke="#000" stroke-width="2.8" stroke-linejoin="round"/>
<polygon points="712.03,1144 721.38,1162.4 702.68,1162.4" fill="#000" stroke="#000" stroke-width="2.8" stroke-linejoin="round"/>
<polygon points="180.6,1291.5 189.95,1309.9 171.25,1309.9" fill="#fff" stroke="#000" stroke-width="2.8" stroke-linejoin="round"/>
<polygon points="286.89,1216.9 296.24,1235.3 277.54,1235.3" fill="#fff" stroke="#000" stroke-width="2.8" stroke-linejoin="round"/>
<polygon points="393.17,1145.3 402.52,1163.7 383.82,1163.7" fill="#fff" stroke="#000" stroke-width="2.8" stroke-linejoin="round"/>
<polygon points="712.03,1139.8 721.38,1158.2 702.68,1158.2" fill="#fff" stroke="#000" stroke-width="2.8" stroke-linejoin="round"/>
<rect x="90" y="960" width="70" height="20.6" fill="#fff"/>
<text x="1080.93" y="962.1" font-size="34" text-anchor="start" fill="#000" font-family="'Liberation Sans', Arial, sans-serif" font-weight="bold">F</text>
<rect x="1240.3" y="987.1" width="744.1" height="365.7" fill="none" stroke="#000" stroke-width="2.5" stroke-linejoin="miter"/>
<text x="1240.3" y="1409.8" font-size="35" text-anchor="middle" fill="#000" font-family="Carlito, 'Liberation Sans', Arial, sans-serif" textLength="17.75" lengthAdjust="spacingAndGlyphs">0</text>
<text x="1333.31" y="1409.8" font-size="35" text-anchor="middle" fill="#000" font-family="Carlito, 'Liberation Sans', Arial, sans-serif" textLength="35.48" lengthAdjust="spacingAndGlyphs">24</text>
<text x="1426.33" y="1409.8" font-size="35" text-anchor="middle" fill="#000" font-family="Carlito, 'Liberation Sans', Arial, sans-serif" textLength="35.48" lengthAdjust="spacingAndGlyphs">48</text>
<text x="1519.34" y="1409.8" font-size="35" text-anchor="middle" fill="#000" font-family="Carlito, 'Liberation Sans', Arial, sans-serif" textLength="35.48" lengthAdjust="spacingAndGlyphs">72</text>
<text x="1612.35" y="1409.8" font-size="35" text-anchor="middle" fill="#000" font-family="Carlito, 'Liberation Sans', Arial, sans-serif" textLength="35.48" lengthAdjust="spacingAndGlyphs">96</text>
<text x="1705.36" y="1409.8" font-size="35" text-anchor="middle" fill="#000" font-family="Carlito, 'Liberation Sans', Arial, sans-serif" textLength="53.22" lengthAdjust="spacingAndGlyphs">120</text>
<text x="1798.38" y="1409.8" font-size="35" text-anchor="middle" fill="#000" font-family="Carlito, 'Liberation Sans', Arial, sans-serif" textLength="53.22" lengthAdjust="spacingAndGlyphs">144</text>
<text x="1891.39" y="1409.8" font-size="35" text-anchor="middle" fill="#000" font-family="Carlito, 'Liberation Sans', Arial, sans-serif" textLength="53.22" lengthAdjust="spacingAndGlyphs">168</text>
<text x="1984.4" y="1409.8" font-size="35" text-anchor="middle" fill="#000" font-family="Carlito, 'Liberation Sans', Arial, sans-serif" textLength="53.22" lengthAdjust="spacingAndGlyphs">192</text>
<text x="1207.2" y="1363.4" font-size="35" text-anchor="end" fill="#000" font-family="Carlito, 'Liberation Sans', Arial, sans-serif" textLength="44.33" lengthAdjust="spacingAndGlyphs">0.0</text>
<text x="1207.2" y="1271.97" font-size="35" text-anchor="end" fill="#000" font-family="Carlito, 'Liberation Sans', Arial, sans-serif" textLength="44.33" lengthAdjust="spacingAndGlyphs">1.0</text>
<text x="1207.2" y="1180.55" font-size="35" text-anchor="end" fill="#000" font-family="Carlito, 'Liberation Sans', Arial, sans-serif" textLength="44.33" lengthAdjust="spacingAndGlyphs">2.0</text>
<text x="1207.2" y="1089.12" font-size="35" text-anchor="end" fill="#000" font-family="Carlito, 'Liberation Sans', Arial, sans-serif" textLength="44.33" lengthAdjust="spacingAndGlyphs">3.0</text>
<text x="1207.2" y="997.7" font-size="35" text-anchor="end" fill="#000" font-family="Carlito, 'Liberation Sans', Arial, sans-serif" textLength="44.33" lengthAdjust="spacingAndGlyphs">4.0</text>
<path d="M1333.31 1352.8V1342.3M1426.33 1352.8V1342.3M1519.34 1352.8V1342.3M1612.35 1352.8V1342.3M1705.36 1352.8V1342.3M1798.38 1352.8V1342.3M1891.39 1352.8V1342.3M1240.3 1261.38H1250.8M1240.3 1169.95H1250.8M1240.3 1078.53H1250.8" stroke="#000" stroke-width="2.5" fill="none"/>
<text transform="translate(1140.5 1169.95) rotate(-90)" font-size="39" text-anchor="middle" fill="#000" font-family="Carlito, 'Liberation Sans', Arial, sans-serif" textLength="117.94" lengthAdjust="spacingAndGlyphs">OD 660</text>
<text x="1280.6" y="1046.6" font-size="41" text-anchor="start" fill="#000" font-family="Carlito, 'Liberation Sans', Arial, sans-serif" textLength="60.48" lengthAdjust="spacingAndGlyphs"><tspan dy="1.8">-</tspan><tspan dy="-1.8"> Fe</tspan></text>
<text x="1881.8" y="1317.5" font-size="41" text-anchor="start" fill="#000" font-family="Carlito, 'Liberation Sans', Arial, sans-serif" textLength="62.17" lengthAdjust="spacingAndGlyphs"><tspan dy="1.8">-</tspan><tspan dy="-1.8"> O</tspan><tspan font-size="26" dy="10">2</tspan></text>
<clipPath id="cF"><rect x="1240.3" y="987.1" width="744.1" height="365.7"/></clipPath>
<g clip-path="url(#cF)">
<path d="M1240.3 1342H1245.5M1245.5 1333.2V1350.8" stroke="#505050" stroke-width="2.4" fill="none"/>
<path d="M1240.3 1342H1245.5M1245.5 1333.2V1350.8" stroke="#505050" stroke-width="2.4" fill="none"/>
<path d="M1328.11 1302.6H1338.51M1328.11 1293.8V1311.4M1338.51 1293.8V1311.4M1333.31 1294.6V1310.6M1324.51 1294.6H1342.11M1324.51 1310.6H1342.11" stroke="#505050" stroke-width="2.4" fill="none"/>
<path d="M1328.11 1306.5H1338.51M1328.11 1297.7V1315.3M1338.51 1297.7V1315.3M1333.31 1294.5V1318.5M1324.51 1294.5H1342.11M1324.51 1318.5H1342.11" stroke="#505050" stroke-width="2.4" fill="none"/>
<path d="M1421.12 1220.1H1431.53M1421.12 1211.3V1228.9M1431.53 1211.3V1228.9M1426.33 1215.1V1225.1M1417.53 1215.1H1435.12M1417.53 1225.1H1435.12" stroke="#505050" stroke-width="2.4" fill="none"/>
<path d="M1421.12 1225.2H1431.53M1421.12 1216.4V1234M1431.53 1216.4V1234M1426.33 1220.2V1230.2M1417.53 1220.2H1435.12M1417.53 1230.2H1435.12" stroke="#505050" stroke-width="2.4" fill="none"/>
<path d="M1514.14 1190.6H1524.54M1514.14 1181.8V1199.4M1524.54 1181.8V1199.4M1519.34 1185.6V1195.6M1510.54 1185.6H1528.14M1510.54 1195.6H1528.14" stroke="#505050" stroke-width="2.4" fill="none"/>
<path d="M1514.14 1188.7H1524.54M1514.14 1179.9V1197.5M1524.54 1179.9V1197.5M1519.34 1174.7V1202.7M1510.54 1174.7H1528.14M1510.54 1202.7H1528.14" stroke="#505050" stroke-width="2.4" fill="none"/>
<path d="M1607.15 1176.7H1617.55M1607.15 1167.9V1185.5M1617.55 1167.9V1185.5M1612.35 1170.7V1182.7M1603.55 1170.7H1621.15M1603.55 1182.7H1621.15" stroke="#505050" stroke-width="2.4" fill="none"/>
<path d="M1607.15 1207H1617.55M1607.15 1198.2V1215.8M1617.55 1198.2V1215.8M1612.35 1200.4V1213.6M1603.55 1200.4H1621.15M1603.55 1213.6H1621.15" stroke="#505050" stroke-width="2.4" fill="none"/>
<path d="M1700.16 1194.8H1710.56M1700.16 1186V1203.6M1710.56 1186V1203.6M1705.36 1189.8V1199.8M1696.56 1189.8H1714.16M1696.56 1199.8H1714.16" stroke="#505050" stroke-width="2.4" fill="none"/>
<path d="M1700.16 1183.8H1710.56M1700.16 1175V1192.6M1710.56 1175V1192.6M1705.36 1173.8V1193.8M1696.56 1173.8H1714.16M1696.56 1193.8H1714.16" stroke="#505050" stroke-width="2.4" fill="none"/>
<path d="M1793.17 1167.2H1803.58M1793.17 1158.4V1176M1803.58 1158.4V1176M1798.38 1162.2V1172.2M1789.58 1162.2H1807.17M1789.58 1172.2H1807.17" stroke="#505050" stroke-width="2.4" fill="none"/>
<path d="M1793.17 1198.1H1803.58M1793.17 1189.3V1206.9M1803.58 1189.3V1206.9M1798.38 1188.1V1208.1M1789.58 1188.1H1807.17M1789.58 1208.1H1807.17" stroke="#505050" stroke-width="2.4" fill="none"/>
<path d="M1870.3 1210.8H1880.7M1870.3 1202V1219.6M1880.7 1202V1219.6M1875.5 1205.8V1215.8M1866.7 1205.8H1884.3M1866.7 1215.8H1884.3" stroke="#505050" stroke-width="2.4" fill="none"/>
<path d="M1870.3 1201.1H1880.7M1870.3 1192.3V1209.9M1880.7 1192.3V1209.9M1875.5 1195.1V1207.1M1866.7 1195.1H1884.3M1866.7 1207.1H1884.3" stroke="#505050" stroke-width="2.4" fill="none"/>
</g>
<polygon points="1240.3,1332.8 1249.65,1351.2 1230.95,1351.2" fill="#000" stroke="#000" stroke-width="2.8" stroke-linejoin="round"/>
<polygon points="1333.31,1293.4 1342.66,1311.8 1323.96,1311.8" fill="#000" stroke="#000" stroke-width="2.8" stroke-linejoin="round"/>
<polygon points="1426.33,1210.9 1435.67,1229.3 1416.98,1229.3" fill="#000" stroke="#000" stroke-width="2.8" stroke-linejoin="round"/>
<polygon points="1519.34,1181.4 1528.69,1199.8 1509.99,1199.8" fill="#000" stroke="#000" stroke-width="2.8" stroke-linejoin="round"/>
<polygon points="1612.35,1167.5 1621.7,1185.9 1603,1185.9" fill="#000" stroke="#000" stroke-width="2.8" stroke-linejoin="round"/>
<polygon points="1705.36,1185.6 1714.71,1204 1696.01,1204" fill="#000" stroke="#000" stroke-width="2.8" stroke-linejoin="round"/>
<polygon points="1798.38,1158 1807.72,1176.4 1789.03,1176.4" fill="#000" stroke="#000" stroke-width="2.8" stroke-linejoin="round"/>
<polygon points="1875.5,1201.6 1884.85,1220 1866.15,1220" fill="#000" stroke="#000" stroke-width="2.8" stroke-linejoin="round"/>
<polygon points="1240.3,1332.8 1249.65,1351.2 1230.95,1351.2" fill="#fff" stroke="#000" stroke-width="2.8" stroke-linejoin="round"/>
<polygon points="1333.31,1297.3 1342.66,1315.7 1323.96,1315.7" fill="#fff" stroke="#000" stroke-width="2.8" stroke-linejoin="round"/>
<polygon points="1426.33,1216 1435.67,1234.4 1416.98,1234.4" fill="#fff" stroke="#000" stroke-width="2.8" stroke-linejoin="round"/>
<polygon points="1519.34,1179.5 1528.69,1197.9 1509.99,1197.9" fill="#fff" stroke="#000" stroke-width="2.8" stroke-linejoin="round"/>
<polygon points="1612.35,1197.8 1621.7,1216.2 1603,1216.2" fill="#fff" stroke="#000" stroke-width="2.8" stroke-linejoin="round"/>
<polygon points="1705.36,1174.6 1714.71,1193 1696.01,1193" fill="#fff" stroke="#000" stroke-width="2.8" stroke-linejoin="round"/>
<polygon points="1798.38,1188.9 1807.72,1207.3 1789.03,1207.3" fill="#fff" stroke="#000" stroke-width="2.8" stroke-linejoin="round"/>
<polygon points="1875.5,1191.9 1884.85,1210.3 1866.15,1210.3" fill="#fff" stroke="#000" stroke-width="2.8" stroke-linejoin="round"/>
<text x="1.51" y="1431.8" font-size="34" text-anchor="start" fill="#000" font-family="'Liberation Sans', Arial, sans-serif" font-weight="bold">G</text>
<rect x="180.6" y="1453.2" width="744" height="365.6" fill="none" stroke="#000" stroke-width="2.5" stroke-linejoin="miter"/>
<text x="180.6" y="1875.8" font-size="35" text-anchor="middle" fill="#000" font-family="Carlito, 'Liberation Sans', Arial, sans-serif" textLength="17.75" lengthAdjust="spacingAndGlyphs">0</text>
<text x="304.6" y="1875.8" font-size="35" text-anchor="middle" fill="#000" font-family="Carlito, 'Liberation Sans', Arial, sans-serif" textLength="35.48" lengthAdjust="spacingAndGlyphs">24</text>
<text x="428.6" y="1875.8" font-size="35" text-anchor="middle" fill="#000" font-family="Carlito, 'Liberation Sans', Arial, sans-serif" textLength="35.48" lengthAdjust="spacingAndGlyphs">48</text>
<text x="552.6" y="1875.8" font-size="35" text-anchor="middle" fill="#000" font-family="Carlito, 'Liberation Sans', Arial, sans-serif" textLength="35.48" lengthAdjust="spacingAndGlyphs">72</text>
<text x="676.6" y="1875.8" font-size="35" text-anchor="middle" fill="#000" font-family="Carlito, 'Liberation Sans', Arial, sans-serif" textLength="35.48" lengthAdjust="spacingAndGlyphs">96</text>
<text x="800.6" y="1875.8" font-size="35" text-anchor="middle" fill="#000" font-family="Carlito, 'Liberation Sans', Arial, sans-serif" textLength="53.22" lengthAdjust="spacingAndGlyphs">120</text>
<text x="924.6" y="1875.8" font-size="35" text-anchor="middle" fill="#000" font-family="Carlito, 'Liberation Sans', Arial, sans-serif" textLength="53.22" lengthAdjust="spacingAndGlyphs">144</text>
<text x="147.5" y="1829.4" font-size="35" text-anchor="end" fill="#000" font-family="Carlito, 'Liberation Sans', Arial, sans-serif" textLength="44.33" lengthAdjust="spacingAndGlyphs">0.0</text>
<text x="147.5" y="1738" font-size="35" text-anchor="end" fill="#000" font-family="Carlito, 'Liberation Sans', Arial, sans-serif" textLength="44.33" lengthAdjust="spacingAndGlyphs">1.0</text>
<text x="147.5" y="1646.6" font-size="35" text-anchor="end" fill="#000" font-family="Carlito, 'Liberation Sans', Arial, sans-serif" textLength="44.33" lengthAdjust="spacingAndGlyphs">2.0</text>
<text x="147.5" y="1555.2" font-size="35" text-anchor="end" fill="#000" font-family="Carlito, 'Liberation Sans', Arial, sans-serif" textLength="44.33" lengthAdjust="spacingAndGlyphs">3.0</text>
<text x="147.5" y="1463.8" font-size="35" text-anchor="end" fill="#000" font-family="Carlito, 'Liberation Sans', Arial, sans-serif" textLength="44.33" lengthAdjust="spacingAndGlyphs">4.0</text>
<path d="M304.6 1818.8V1808.3M428.6 1818.8V1808.3M552.6 1818.8V1808.3M676.6 1818.8V1808.3M800.6 1818.8V1808.3M180.6 1727.4H191.1M180.6 1636H191.1M180.6 1544.6H191.1" stroke="#000" stroke-width="2.5" fill="none"/>
<text transform="translate(81 1636) rotate(-90)" font-size="39" text-anchor="middle" fill="#000" font-family="Carlito, 'Liberation Sans', Arial, sans-serif" textLength="117.94" lengthAdjust="spacingAndGlyphs">OD 660</text>
<text x="216.36" y="1504.7" font-size="41" text-anchor="start" fill="#000" font-family="Carlito, 'Liberation Sans', Arial, sans-serif" textLength="186.20" lengthAdjust="spacingAndGlyphs">2 mM H<tspan font-size="26" dy="10">2</tspan><tspan dy="-10">O</tspan><tspan font-size="26" dy="10">2</tspan></text>
<text x="828.2" y="1772.8" font-size="41" text-anchor="start" fill="#000" font-family="Carlito, 'Liberation Sans', Arial, sans-serif" textLength="62.17" lengthAdjust="spacingAndGlyphs"><tspan dy="1.8">-</tspan><tspan dy="-1.8"> O</tspan><tspan font-size="26" dy="10">2</tspan></text>
<clipPath id="cG"><rect x="180.6" y="1453.2" width="744" height="365.6"/></clipPath>
<g clip-path="url(#cG)">
<path d="M180.6 1809.4H185.8M185.8 1800.6V1818.2" stroke="#505050" stroke-width="2.4" fill="none"/>
<path d="M180.6 1809.4H185.8M185.8 1800.6V1818.2" stroke="#505050" stroke-width="2.4" fill="none"/>
<path d="M299.4 1790.1H309.8M299.4 1781.3V1798.9M309.8 1781.3V1798.9M304.6 1778.6V1801.6M295.8 1778.6H313.4M295.8 1801.6H313.4" stroke="#505050" stroke-width="2.4" fill="none"/>
<path d="M299.4 1784.7H309.8M299.4 1775.9V1793.5M309.8 1775.9V1793.5M304.6 1763.4V1806M295.8 1763.4H313.4M295.8 1806H313.4" stroke="#505050" stroke-width="2.4" fill="none"/>
<path d="M423.4 1747.7H433.8M423.4 1738.9V1756.5M433.8 1738.9V1756.5M428.6 1722.5V1772.9M419.8 1722.5H437.4M419.8 1772.9H437.4" stroke="#505050" stroke-width="2.4" fill="none"/>
<path d="M423.4 1747.6H433.8M423.4 1738.8V1756.4M433.8 1738.8V1756.4M428.6 1716.3V1778.9M419.8 1716.3H437.4M419.8 1778.9H437.4" stroke="#505050" stroke-width="2.4" fill="none"/>
<path d="M547.4 1703.7H557.8M547.4 1694.9V1712.5M557.8 1694.9V1712.5M552.6 1673.7V1733.7M543.8 1673.7H561.4M543.8 1733.7H561.4" stroke="#505050" stroke-width="2.4" fill="none"/>
<path d="M547.4 1688.3H557.8M547.4 1679.5V1697.1M557.8 1679.5V1697.1M552.6 1669.3V1707.3M543.8 1669.3H561.4M543.8 1707.3H561.4" stroke="#505050" stroke-width="2.4" fill="none"/>
<path d="M671.4 1665.7H681.8M671.4 1656.9V1674.5M681.8 1656.9V1674.5M676.6 1647.3V1684.1M667.8 1647.3H685.4M667.8 1684.1H685.4" stroke="#505050" stroke-width="2.4" fill="none"/>
<path d="M671.4 1637.9H681.8M671.4 1629.1V1646.7M681.8 1629.1V1646.7M676.6 1627.3V1648.5M667.8 1627.3H685.4M667.8 1648.5H685.4" stroke="#505050" stroke-width="2.4" fill="none"/>
<path d="M795.4 1626.6H805.8M795.4 1617.8V1635.4M805.8 1617.8V1635.4M800.6 1623.6V1629.6M791.8 1623.6H809.4M791.8 1629.6H809.4" stroke="#505050" stroke-width="2.4" fill="none"/>
<path d="M795.4 1576.6H805.8M795.4 1567.8V1585.4M805.8 1567.8V1585.4M800.6 1537.5V1615.7M791.8 1537.5H809.4M791.8 1615.7H809.4" stroke="#505050" stroke-width="2.4" fill="none"/>
</g>
<polygon points="180.6,1800.2 189.95,1818.6 171.25,1818.6" fill="#000" stroke="#000" stroke-width="2.8" stroke-linejoin="round"/>
<polygon points="304.6,1780.9 313.95,1799.3 295.25,1799.3" fill="#000" stroke="#000" stroke-width="2.8" stroke-linejoin="round"/>
<polygon points="428.6,1738.5 437.95,1756.9 419.25,1756.9" fill="#000" stroke="#000" stroke-width="2.8" stroke-linejoin="round"/>
<polygon points="552.6,1694.5 561.95,1712.9 543.25,1712.9" fill="#000" stroke="#000" stroke-width="2.8" stroke-linejoin="round"/>
<polygon points="676.6,1656.5 685.95,1674.9 667.25,1674.9" fill="#000" stroke="#000" stroke-width="2.8" stroke-linejoin="round"/>
<polygon points="800.6,1617.4 809.95,1635.8 791.25,1635.8" fill="#000" stroke="#000" stroke-width="2.8" stroke-linejoin="round"/>
<polygon points="180.6,1800.2 189.95,1818.6 171.25,1818.6" fill="#fff" stroke="#000" stroke-width="2.8" stroke-linejoin="round"/>
<polygon points="304.6,1775.5 313.95,1793.9 295.25,1793.9" fill="#fff" stroke="#000" stroke-width="2.8" stroke-linejoin="round"/>
<polygon points="428.6,1738.4 437.95,1756.8 419.25,1756.8" fill="#fff" stroke="#000" stroke-width="2.8" stroke-linejoin="round"/>
<polygon points="552.6,1679.1 561.95,1697.5 543.25,1697.5" fill="#fff" stroke="#000" stroke-width="2.8" stroke-linejoin="round"/>
<polygon points="676.6,1628.7 685.95,1647.1 667.25,1647.1" fill="#fff" stroke="#000" stroke-width="2.8" stroke-linejoin="round"/>
<polygon points="800.6,1567.4 809.95,1585.8 791.25,1585.8" fill="#fff" stroke="#000" stroke-width="2.8" stroke-linejoin="round"/>
<text x="1079.43" y="1431.5" font-size="34" text-anchor="start" fill="#000" font-family="'Liberation Sans', Arial, sans-serif" font-weight="bold">H</text>
<rect x="1233.6" y="1444.6" width="744.3" height="365.8" fill="none" stroke="#000" stroke-width="2.5" stroke-linejoin="miter"/>
<text x="1233.6" y="1867.4" font-size="35" text-anchor="middle" fill="#000" font-family="Carlito, 'Liberation Sans', Arial, sans-serif" textLength="17.75" lengthAdjust="spacingAndGlyphs">0</text>
<text x="1326.64" y="1867.4" font-size="35" text-anchor="middle" fill="#000" font-family="Carlito, 'Liberation Sans', Arial, sans-serif" textLength="35.48" lengthAdjust="spacingAndGlyphs">24</text>
<text x="1419.67" y="1867.4" font-size="35" text-anchor="middle" fill="#000" font-family="Carlito, 'Liberation Sans', Arial, sans-serif" textLength="35.48" lengthAdjust="spacingAndGlyphs">48</text>
<text x="1512.71" y="1867.4" font-size="35" text-anchor="middle" fill="#000" font-family="Carlito, 'Liberation Sans', Arial, sans-serif" textLength="35.48" lengthAdjust="spacingAndGlyphs">72</text>
<text x="1605.75" y="1867.4" font-size="35" text-anchor="middle" fill="#000" font-family="Carlito, 'Liberation Sans', Arial, sans-serif" textLength="35.48" lengthAdjust="spacingAndGlyphs">96</text>
<text x="1698.79" y="1867.4" font-size="35" text-anchor="middle" fill="#000" font-family="Carlito, 'Liberation Sans', Arial, sans-serif" textLength="53.22" lengthAdjust="spacingAndGlyphs">120</text>
<text x="1791.83" y="1867.4" font-size="35" text-anchor="middle" fill="#000" font-family="Carlito, 'Liberation Sans', Arial, sans-serif" textLength="53.22" lengthAdjust="spacingAndGlyphs">144</text>
<text x="1884.86" y="1867.4" font-size="35" text-anchor="middle" fill="#000" font-family="Carlito, 'Liberation Sans', Arial, sans-serif" textLength="53.22" lengthAdjust="spacingAndGlyphs">168</text>
<text x="1977.9" y="1867.4" font-size="35" text-anchor="middle" fill="#000" font-family="Carlito, 'Liberation Sans', Arial, sans-serif" textLength="53.22" lengthAdjust="spacingAndGlyphs">192</text>
<text x="1200.5" y="1821" font-size="35" text-anchor="end" fill="#000" font-family="Carlito, 'Liberation Sans', Arial, sans-serif" textLength="44.33" lengthAdjust="spacingAndGlyphs">0.0</text>
<text x="1200.5" y="1739.55" font-size="35" text-anchor="end" fill="#000" font-family="Carlito, 'Liberation Sans', Arial, sans-serif" textLength="44.33" lengthAdjust="spacingAndGlyphs">1.0</text>
<text x="1200.5" y="1658.1" font-size="35" text-anchor="end" fill="#000" font-family="Carlito, 'Liberation Sans', Arial, sans-serif" textLength="44.33" lengthAdjust="spacingAndGlyphs">2.0</text>
<text x="1200.5" y="1576.65" font-size="35" text-anchor="end" fill="#000" font-family="Carlito, 'Liberation Sans', Arial, sans-serif" textLength="44.33" lengthAdjust="spacingAndGlyphs">3.0</text>
<text x="1200.5" y="1495.2" font-size="35" text-anchor="end" fill="#000" font-family="Carlito, 'Liberation Sans', Arial, sans-serif" textLength="44.33" lengthAdjust="spacingAndGlyphs">4.0</text>
<path d="M1326.64 1810.4V1799.9M1419.67 1810.4V1799.9M1512.71 1810.4V1799.9M1605.75 1810.4V1799.9M1698.79 1810.4V1799.9M1791.83 1810.4V1799.9M1884.86 1810.4V1799.9M1233.6 1728.95H1244.1M1233.6 1647.5H1244.1M1233.6 1566.05H1244.1M1233.6 1484.6H1244.1" stroke="#000" stroke-width="2.5" fill="none"/>
<text transform="translate(1133.7 1627.5) rotate(-90)" font-size="39" text-anchor="middle" fill="#000" font-family="Carlito, 'Liberation Sans', Arial, sans-serif" textLength="117.94" lengthAdjust="spacingAndGlyphs">OD 660</text>
<text x="1274.06" y="1501.9" font-size="41" text-anchor="start" fill="#000" font-family="Carlito, 'Liberation Sans', Arial, sans-serif" textLength="388.69" lengthAdjust="spacingAndGlyphs">2 mM GSH/ 2 mM H<tspan font-size="26" dy="10">2</tspan><tspan dy="-10">O</tspan><tspan font-size="26" dy="10">2</tspan></text>
<text x="1888.4" y="1759.5" font-size="41" text-anchor="start" fill="#000" font-family="Carlito, 'Liberation Sans', Arial, sans-serif" textLength="62.17" lengthAdjust="spacingAndGlyphs"><tspan dy="1.8">-</tspan><tspan dy="-1.8"> O</tspan><tspan font-size="26" dy="10">2</tspan></text>
<clipPath id="cH"><rect x="1233.6" y="1444.6" width="744.3" height="365.8"/></clipPath>
<g clip-path="url(#cH)">
<path d="M1233.6 1801H1238.8M1238.8 1792.2V1809.8" stroke="#505050" stroke-width="2.4" fill="none"/>
<path d="M1233.6 1801H1238.8M1238.8 1792.2V1809.8" stroke="#505050" stroke-width="2.4" fill="none"/>
<path d="M1321.44 1794.7H1331.84M1321.44 1785.9V1803.5M1331.84 1785.9V1803.5M1326.64 1789.7V1799.7M1317.84 1789.7H1335.44M1317.84 1799.7H1335.44" stroke="#505050" stroke-width="2.4" fill="none"/>
<path d="M1321.44 1801.3H1331.84M1321.44 1792.5V1810.1M1331.84 1792.5V1810.1M1326.64 1796.3V1806.3M1317.84 1796.3H1335.44M1317.84 1806.3H1335.44" stroke="#505050" stroke-width="2.4" fill="none"/>
<path d="M1414.47 1684.6H1424.88M1414.47 1675.8V1693.4M1424.88 1675.8V1693.4M1419.67 1679.6V1689.6M1410.88 1679.6H1428.47M1410.88 1689.6H1428.47" stroke="#505050" stroke-width="2.4" fill="none"/>
<path d="M1414.47 1729.1H1424.88M1414.47 1720.3V1737.9M1424.88 1720.3V1737.9M1419.67 1724.1V1734.1M1410.88 1724.1H1428.47M1410.88 1734.1H1428.47" stroke="#505050" stroke-width="2.4" fill="none"/>
<path d="M1507.51 1562.9H1517.91M1507.51 1554.1V1571.7M1517.91 1554.1V1571.7M1512.71 1557.9V1567.9M1503.91 1557.9H1521.51M1503.91 1567.9H1521.51" stroke="#505050" stroke-width="2.4" fill="none"/>
<path d="M1507.51 1598.2H1517.91M1507.51 1589.4V1607M1517.91 1589.4V1607M1512.71 1593.2V1603.2M1503.91 1593.2H1521.51M1503.91 1603.2H1521.51" stroke="#505050" stroke-width="2.4" fill="none"/>
<path d="M1600.55 1549.1H1610.95M1600.55 1540.3V1557.9M1610.95 1540.3V1557.9M1605.75 1544.1V1554.1M1596.95 1544.1H1614.55M1596.95 1554.1H1614.55" stroke="#505050" stroke-width="2.4" fill="none"/>
<path d="M1600.55 1563.7H1610.95M1600.55 1554.9V1572.5M1610.95 1554.9V1572.5M1605.75 1558.7V1568.7M1596.95 1558.7H1614.55M1596.95 1568.7H1614.55" stroke="#505050" stroke-width="2.4" fill="none"/>
<path d="M1693.59 1561.2H1703.99M1693.59 1552.4V1570M1703.99 1552.4V1570M1698.79 1556.2V1566.2M1689.99 1556.2H1707.59M1689.99 1566.2H1707.59" stroke="#505050" stroke-width="2.4" fill="none"/>
<path d="M1693.59 1561.2H1703.99M1693.59 1552.4V1570M1703.99 1552.4V1570M1698.79 1556.2V1566.2M1689.99 1556.2H1707.59M1689.99 1566.2H1707.59" stroke="#505050" stroke-width="2.4" fill="none"/>
<path d="M1786.62 1576.4H1797.03M1786.62 1567.6V1585.2M1797.03 1567.6V1585.2M1791.83 1568.4V1584.4M1783.03 1568.4H1800.62M1783.03 1584.4H1800.62" stroke="#505050" stroke-width="2.4" fill="none"/>
<path d="M1786.62 1591.5H1797.03M1786.62 1582.7V1600.3M1797.03 1582.7V1600.3M1791.83 1565.5V1617.5M1783.03 1565.5H1800.62M1783.03 1617.5H1800.62" stroke="#505050" stroke-width="2.4" fill="none"/>
<path d="M1863.77 1558.1H1874.17M1863.77 1549.3V1566.9M1874.17 1549.3V1566.9M1868.97 1553.1V1563.1M1860.17 1553.1H1877.77M1860.17 1563.1H1877.77" stroke="#505050" stroke-width="2.4" fill="none"/>
<path d="M1863.77 1554.6H1874.17M1863.77 1545.8V1563.4M1874.17 1545.8V1563.4M1868.97 1541.6V1567.6M1860.17 1541.6H1877.77M1860.17 1567.6H1877.77" stroke="#505050" stroke-width="2.4" fill="none"/>
</g>
<polygon points="1233.6,1791.8 1242.95,1810.2 1224.25,1810.2" fill="#000" stroke="#000" stroke-width="2.8" stroke-linejoin="round"/>
<polygon points="1326.64,1785.5 1335.99,1803.9 1317.29,1803.9" fill="#000" stroke="#000" stroke-width="2.8" stroke-linejoin="round"/>
<polygon points="1419.67,1675.4 1429.02,1693.8 1410.33,1693.8" fill="#000" stroke="#000" stroke-width="2.8" stroke-linejoin="round"/>
<polygon points="1512.71,1553.7 1522.06,1572.1 1503.36,1572.1" fill="#000" stroke="#000" stroke-width="2.8" stroke-linejoin="round"/>
<polygon points="1605.75,1539.9 1615.1,1558.3 1596.4,1558.3" fill="#000" stroke="#000" stroke-width="2.8" stroke-linejoin="round"/>
<polygon points="1698.79,1552 1708.14,1570.4 1689.44,1570.4" fill="#000" stroke="#000" stroke-width="2.8" stroke-linejoin="round"/>
<polygon points="1791.83,1567.2 1801.17,1585.6 1782.48,1585.6" fill="#000" stroke="#000" stroke-width="2.8" stroke-linejoin="round"/>
<polygon points="1868.97,1548.9 1878.32,1567.3 1859.62,1567.3" fill="#000" stroke="#000" stroke-width="2.8" stroke-linejoin="round"/>
<polygon points="1233.6,1791.8 1242.95,1810.2 1224.25,1810.2" fill="#fff" stroke="#000" stroke-width="2.8" stroke-linejoin="round"/>
<polygon points="1326.64,1792.1 1335.99,1810.5 1317.29,1810.5" fill="#fff" stroke="#000" stroke-width="2.8" stroke-linejoin="round"/>
<polygon points="1419.67,1719.9 1429.02,1738.3 1410.33,1738.3" fill="#fff" stroke="#000" stroke-width="2.8" stroke-linejoin="round"/>
<polygon points="1512.71,1589 1522.06,1607.4 1503.36,1607.4" fill="#fff" stroke="#000" stroke-width="2.8" stroke-linejoin="round"/>
<polygon points="1605.75,1554.5 1615.1,1572.9 1596.4,1572.9" fill="#fff" stroke="#000" stroke-width="2.8" stroke-linejoin="round"/>
<polygon points="1698.79,1552 1708.14,1570.4 1689.44,1570.4" fill="#fff" stroke="#000" stroke-width="2.8" stroke-linejoin="round"/>
<polygon points="1791.83,1582.3 1801.17,1600.7 1782.48,1600.7" fill="#fff" stroke="#000" stroke-width="2.8" stroke-linejoin="round"/>
<polygon points="1868.97,1545.4 1878.32,1563.8 1859.62,1563.8" fill="#fff" stroke="#000" stroke-width="2.8" stroke-linejoin="round"/>
<text x="9.23" y="1900.2" font-size="34" text-anchor="start" fill="#000" font-family="'Liberation Sans', Arial, sans-serif" font-weight="bold">I</text>
<rect x="184.4" y="1928.7" width="744.1" height="365.5" fill="none" stroke="#000" stroke-width="2.5" stroke-linejoin="miter"/>
<text x="184.4" y="2351.2" font-size="35" text-anchor="middle" fill="#000" font-family="Carlito, 'Liberation Sans', Arial, sans-serif" textLength="17.75" lengthAdjust="spacingAndGlyphs">0</text>
<text x="267.08" y="2351.2" font-size="35" text-anchor="middle" fill="#000" font-family="Carlito, 'Liberation Sans', Arial, sans-serif" textLength="35.48" lengthAdjust="spacingAndGlyphs">24</text>
<text x="349.76" y="2351.2" font-size="35" text-anchor="middle" fill="#000" font-family="Carlito, 'Liberation Sans', Arial, sans-serif" textLength="35.48" lengthAdjust="spacingAndGlyphs">48</text>
<text x="432.43" y="2351.2" font-size="35" text-anchor="middle" fill="#000" font-family="Carlito, 'Liberation Sans', Arial, sans-serif" textLength="35.48" lengthAdjust="spacingAndGlyphs">72</text>
<text x="515.11" y="2351.2" font-size="35" text-anchor="middle" fill="#000" font-family="Carlito, 'Liberation Sans', Arial, sans-serif" textLength="35.48" lengthAdjust="spacingAndGlyphs">96</text>
<text x="597.79" y="2351.2" font-size="35" text-anchor="middle" fill="#000" font-family="Carlito, 'Liberation Sans', Arial, sans-serif" textLength="53.22" lengthAdjust="spacingAndGlyphs">120</text>
<text x="680.47" y="2351.2" font-size="35" text-anchor="middle" fill="#000" font-family="Carlito, 'Liberation Sans', Arial, sans-serif" textLength="53.22" lengthAdjust="spacingAndGlyphs">144</text>
<text x="763.14" y="2351.2" font-size="35" text-anchor="middle" fill="#000" font-family="Carlito, 'Liberation Sans', Arial, sans-serif" textLength="53.22" lengthAdjust="spacingAndGlyphs">168</text>
<text x="845.82" y="2351.2" font-size="35" text-anchor="middle" fill="#000" font-family="Carlito, 'Liberation Sans', Arial, sans-serif" textLength="53.22" lengthAdjust="spacingAndGlyphs">192</text>
<text x="928.5" y="2351.2" font-size="35" text-anchor="middle" fill="#000" font-family="Carlito, 'Liberation Sans', Arial, sans-serif" textLength="53.22" lengthAdjust="spacingAndGlyphs">216</text>
<text x="151.3" y="2304.8" font-size="35" text-anchor="end" fill="#000" font-family="Carlito, 'Liberation Sans', Arial, sans-serif" textLength="44.33" lengthAdjust="spacingAndGlyphs">0.0</text>
<text x="151.3" y="2213.42" font-size="35" text-anchor="end" fill="#000" font-family="Carlito, 'Liberation Sans', Arial, sans-serif" textLength="44.33" lengthAdjust="spacingAndGlyphs">1.0</text>
<text x="151.3" y="2122.05" font-size="35" text-anchor="end" fill="#000" font-family="Carlito, 'Liberation Sans', Arial, sans-serif" textLength="44.33" lengthAdjust="spacingAndGlyphs">2.0</text>
<text x="151.3" y="2030.67" font-size="35" text-anchor="end" fill="#000" font-family="Carlito, 'Liberation Sans', Arial, sans-serif" textLength="44.33" lengthAdjust="spacingAndGlyphs">3.0</text>
<text x="151.3" y="1939.3" font-size="35" text-anchor="end" fill="#000" font-family="Carlito, 'Liberation Sans', Arial, sans-serif" textLength="44.33" lengthAdjust="spacingAndGlyphs">4.0</text>
<path d="M267.08 2294.2V2283.7M349.76 2294.2V2283.7M432.43 2294.2V2283.7M515.11 2294.2V2283.7M597.79 2294.2V2283.7M680.47 2294.2V2283.7M763.14 2294.2V2283.7M845.82 2294.2V2283.7M184.4 2202.82H194.9M184.4 2111.45H194.9M184.4 2020.08H194.9" stroke="#000" stroke-width="2.5" fill="none"/>
<text transform="translate(85.1 2111.45) rotate(-90)" font-size="39" text-anchor="middle" fill="#000" font-family="Carlito, 'Liberation Sans', Arial, sans-serif" textLength="117.94" lengthAdjust="spacingAndGlyphs">OD 660</text>
<text x="227.04" y="1977.4" font-size="41" text-anchor="start" fill="#000" font-family="Carlito, 'Liberation Sans', Arial, sans-serif" textLength="51.92" lengthAdjust="spacingAndGlyphs">0.5</text>
<text x="289.1" y="1975.1" font-size="36.5" text-anchor="start" fill="#000" font-family="'Liberation Sans', Arial, sans-serif">–</text>
<text x="318.67" y="1977.4" font-size="41" text-anchor="start" fill="#000" font-family="Carlito, 'Liberation Sans', Arial, sans-serif" textLength="206.75" lengthAdjust="spacingAndGlyphs">2 µM AgNO<tspan font-size="26" dy="10">3</tspan></text>
<text x="831.6" y="2248.3" font-size="41" text-anchor="start" fill="#000" font-family="Carlito, 'Liberation Sans', Arial, sans-serif" textLength="62.17" lengthAdjust="spacingAndGlyphs"><tspan dy="1.8">-</tspan><tspan dy="-1.8"> O</tspan><tspan font-size="26" dy="10">2</tspan></text>
<clipPath id="cI"><rect x="184.4" y="1928.7" width="744.1" height="365.5"/></clipPath>
<g clip-path="url(#cI)">
<path d="M184.4 2289H189.6M189.6 2280.2V2297.8" stroke="#505050" stroke-width="2.4" fill="none"/>
<path d="M184.4 2289H189.6M189.6 2280.2V2297.8" stroke="#505050" stroke-width="2.4" fill="none"/>
<path d="M261.88 2253.7H272.28M261.88 2244.9V2262.5M272.28 2244.9V2262.5M267.08 2248.7V2258.7M258.28 2248.7H275.88M258.28 2258.7H275.88" stroke="#505050" stroke-width="2.4" fill="none"/>
<path d="M261.88 2259.5H272.28M261.88 2250.7V2268.3M272.28 2250.7V2268.3M267.08 2254.5V2264.5M258.28 2254.5H275.88M258.28 2264.5H275.88" stroke="#505050" stroke-width="2.4" fill="none"/>
<path d="M344.56 2140.7H354.96M344.56 2131.9V2149.5M354.96 2131.9V2149.5M349.76 2135.7V2145.7M340.96 2135.7H358.56M340.96 2145.7H358.56" stroke="#505050" stroke-width="2.4" fill="none"/>
<path d="M344.56 2157.2H354.96M344.56 2148.4V2166M354.96 2148.4V2166M349.76 2152.2V2162.2M340.96 2152.2H358.56M340.96 2162.2H358.56" stroke="#505050" stroke-width="2.4" fill="none"/>
<path d="M427.23 2077.8H437.63M427.23 2069V2086.6M437.63 2069V2086.6M432.43 2072.8V2082.8M423.63 2072.8H441.23M423.63 2082.8H441.23" stroke="#505050" stroke-width="2.4" fill="none"/>
<path d="M427.23 2077.8H437.63M427.23 2069V2086.6M437.63 2069V2086.6M432.43 2072.8V2082.8M423.63 2072.8H441.23M423.63 2082.8H441.23" stroke="#505050" stroke-width="2.4" fill="none"/>
<path d="M509.91 2089H520.31M509.91 2080.2V2097.8M520.31 2080.2V2097.8M515.11 2084V2094M506.31 2084H523.91M506.31 2094H523.91" stroke="#505050" stroke-width="2.4" fill="none"/>
<path d="M509.91 2102.9H520.31M509.91 2094.1V2111.7M520.31 2094.1V2111.7M515.11 2097.9V2107.9M506.31 2097.9H523.91M506.31 2107.9H523.91" stroke="#505050" stroke-width="2.4" fill="none"/>
<path d="M840.62 2067.3H851.02M840.62 2058.5V2076.1M851.02 2058.5V2076.1" stroke="#505050" stroke-width="2.4" fill="none"/>
<path d="M840.62 2057.1H851.02M840.62 2048.3V2065.9M851.02 2048.3V2065.9" stroke="#505050" stroke-width="2.4" fill="none"/>
</g>
<polygon points="184.4,2279.8 193.75,2298.2 175.05,2298.2" fill="#000" stroke="#000" stroke-width="2.8" stroke-linejoin="round"/>
<polygon points="267.08,2244.5 276.43,2262.9 257.73,2262.9" fill="#000" stroke="#000" stroke-width="2.8" stroke-linejoin="round"/>
<polygon points="349.76,2131.5 359.11,2149.9 340.41,2149.9" fill="#000" stroke="#000" stroke-width="2.8" stroke-linejoin="round"/>
<polygon points="432.43,2068.6 441.78,2087 423.08,2087" fill="#000" stroke="#000" stroke-width="2.8" stroke-linejoin="round"/>
<polygon points="515.11,2079.8 524.46,2098.2 505.76,2098.2" fill="#000" stroke="#000" stroke-width="2.8" stroke-linejoin="round"/>
<polygon points="845.82,2058.1 855.17,2076.5 836.47,2076.5" fill="#000" stroke="#000" stroke-width="2.8" stroke-linejoin="round"/>
<polygon points="184.4,2279.8 193.75,2298.2 175.05,2298.2" fill="#fff" stroke="#000" stroke-width="2.8" stroke-linejoin="round"/>
<polygon points="267.08,2250.3 276.43,2268.7 257.73,2268.7" fill="#fff" stroke="#000" stroke-width="2.8" stroke-linejoin="round"/>
<polygon points="349.76,2148 359.11,2166.4 340.41,2166.4" fill="#fff" stroke="#000" stroke-width="2.8" stroke-linejoin="round"/>
<polygon points="432.43,2068.6 441.78,2087 423.08,2087" fill="#fff" stroke="#000" stroke-width="2.8" stroke-linejoin="round"/>
<polygon points="515.11,2093.7 524.46,2112.1 505.76,2112.1" fill="#fff" stroke="#000" stroke-width="2.8" stroke-linejoin="round"/>
<polygon points="845.82,2047.9 855.17,2066.3 836.47,2066.3" fill="#fff" stroke="#000" stroke-width="2.8" stroke-linejoin="round"/>
<text x="1082.39" y="1901.2" font-size="34" text-anchor="start" fill="#000" font-family="'Liberation Sans', Arial, sans-serif" font-weight="bold">J</text>
<rect x="1240.3" y="1925.5" width="744.1" height="365.8" fill="none" stroke="#000" stroke-width="2.5" stroke-linejoin="miter"/>
<text x="1240.3" y="2348.3" font-size="35" text-anchor="middle" fill="#000" font-family="Carlito, 'Liberation Sans', Arial, sans-serif" textLength="17.75" lengthAdjust="spacingAndGlyphs">0</text>
<text x="1322.98" y="2348.3" font-size="35" text-anchor="middle" fill="#000" font-family="Carlito, 'Liberation Sans', Arial, sans-serif" textLength="35.48" lengthAdjust="spacingAndGlyphs">24</text>
<text x="1405.66" y="2348.3" font-size="35" text-anchor="middle" fill="#000" font-family="Carlito, 'Liberation Sans', Arial, sans-serif" textLength="35.48" lengthAdjust="spacingAndGlyphs">48</text>
<text x="1488.33" y="2348.3" font-size="35" text-anchor="middle" fill="#000" font-family="Carlito, 'Liberation Sans', Arial, sans-serif" textLength="35.48" lengthAdjust="spacingAndGlyphs">72</text>
<text x="1571.01" y="2348.3" font-size="35" text-anchor="middle" fill="#000" font-family="Carlito, 'Liberation Sans', Arial, sans-serif" textLength="35.48" lengthAdjust="spacingAndGlyphs">96</text>
<text x="1653.69" y="2348.3" font-size="35" text-anchor="middle" fill="#000" font-family="Carlito, 'Liberation Sans', Arial, sans-serif" textLength="53.22" lengthAdjust="spacingAndGlyphs">120</text>
<text x="1736.37" y="2348.3" font-size="35" text-anchor="middle" fill="#000" font-family="Carlito, 'Liberation Sans', Arial, sans-serif" textLength="53.22" lengthAdjust="spacingAndGlyphs">144</text>
<text x="1819.04" y="2348.3" font-size="35" text-anchor="middle" fill="#000" font-family="Carlito, 'Liberation Sans', Arial, sans-serif" textLength="53.22" lengthAdjust="spacingAndGlyphs">168</text>
<text x="1901.72" y="2348.3" font-size="35" text-anchor="middle" fill="#000" font-family="Carlito, 'Liberation Sans', Arial, sans-serif" textLength="53.22" lengthAdjust="spacingAndGlyphs">192</text>
<text x="1984.4" y="2348.3" font-size="35" text-anchor="middle" fill="#000" font-family="Carlito, 'Liberation Sans', Arial, sans-serif" textLength="53.22" lengthAdjust="spacingAndGlyphs">216</text>
<text x="1207.2" y="2301.9" font-size="35" text-anchor="end" fill="#000" font-family="Carlito, 'Liberation Sans', Arial, sans-serif" textLength="44.33" lengthAdjust="spacingAndGlyphs">0.0</text>
<text x="1207.2" y="2210.45" font-size="35" text-anchor="end" fill="#000" font-family="Carlito, 'Liberation Sans', Arial, sans-serif" textLength="44.33" lengthAdjust="spacingAndGlyphs">1.0</text>
<text x="1207.2" y="2119" font-size="35" text-anchor="end" fill="#000" font-family="Carlito, 'Liberation Sans', Arial, sans-serif" textLength="44.33" lengthAdjust="spacingAndGlyphs">2.0</text>
<text x="1207.2" y="2027.55" font-size="35" text-anchor="end" fill="#000" font-family="Carlito, 'Liberation Sans', Arial, sans-serif" textLength="44.33" lengthAdjust="spacingAndGlyphs">3.0</text>
<text x="1207.2" y="1936.1" font-size="35" text-anchor="end" fill="#000" font-family="Carlito, 'Liberation Sans', Arial, sans-serif" textLength="44.33" lengthAdjust="spacingAndGlyphs">4.0</text>
<path d="M1322.98 2291.3V2280.8M1405.66 2291.3V2280.8M1488.33 2291.3V2280.8M1571.01 2291.3V2280.8M1653.69 2291.3V2280.8M1736.37 2291.3V2280.8M1819.04 2291.3V2280.8M1901.72 2291.3V2280.8M1240.3 2199.85H1250.8M1240.3 2108.4H1250.8M1240.3 2016.95H1250.8" stroke="#000" stroke-width="2.5" fill="none"/>
<text transform="translate(1140.4 2108.4) rotate(-90)" font-size="39" text-anchor="middle" fill="#000" font-family="Carlito, 'Liberation Sans', Arial, sans-serif" textLength="117.94" lengthAdjust="spacingAndGlyphs">OD 660</text>
<text x="1288.74" y="1974.4" font-size="41" text-anchor="start" fill="#000" font-family="Carlito, 'Liberation Sans', Arial, sans-serif" textLength="51.92" lengthAdjust="spacingAndGlyphs">0.5</text>
<text x="1350.8" y="1972.1" font-size="36.5" text-anchor="start" fill="#000" font-family="'Liberation Sans', Arial, sans-serif">–</text>
<text x="1380.37" y="1974.4" font-size="41" text-anchor="start" fill="#000" font-family="Carlito, 'Liberation Sans', Arial, sans-serif" textLength="449.64" lengthAdjust="spacingAndGlyphs">2 µM AgNO<tspan font-size="26" dy="10">3</tspan><tspan dy="-10"> / 0.5 mM GSH</tspan></text>
<text x="1884.1" y="2247.6" font-size="41" text-anchor="start" fill="#000" font-family="Carlito, 'Liberation Sans', Arial, sans-serif" textLength="62.17" lengthAdjust="spacingAndGlyphs"><tspan dy="1.8">-</tspan><tspan dy="-1.8"> O</tspan><tspan font-size="26" dy="10">2</tspan></text>
<clipPath id="cJ"><rect x="1240.3" y="1925.5" width="744.1" height="365.8"/></clipPath>
<g clip-path="url(#cJ)">
<path d="M1240.3 2285.2H1245.5M1245.5 2276.4V2294" stroke="#505050" stroke-width="2.4" fill="none"/>
<path d="M1240.3 2285.2H1245.5M1245.5 2276.4V2294" stroke="#505050" stroke-width="2.4" fill="none"/>
<path d="M1317.78 2248.1H1328.18M1317.78 2239.3V2256.9M1328.18 2239.3V2256.9M1322.98 2243.1V2253.1M1314.18 2243.1H1331.78M1314.18 2253.1H1331.78" stroke="#505050" stroke-width="2.4" fill="none"/>
<path d="M1317.78 2248.1H1328.18M1317.78 2239.3V2256.9M1328.18 2239.3V2256.9M1322.98 2243.1V2253.1M1314.18 2243.1H1331.78M1314.18 2253.1H1331.78" stroke="#505050" stroke-width="2.4" fill="none"/>
<path d="M1400.46 2149.7H1410.86M1400.46 2140.9V2158.5M1410.86 2140.9V2158.5M1405.66 2144.7V2154.7M1396.86 2144.7H1414.46M1396.86 2154.7H1414.46" stroke="#505050" stroke-width="2.4" fill="none"/>
<path d="M1400.46 2157.7H1410.86M1400.46 2148.9V2166.5M1410.86 2148.9V2166.5M1405.66 2152.7V2162.7M1396.86 2152.7H1414.46M1396.86 2162.7H1414.46" stroke="#505050" stroke-width="2.4" fill="none"/>
<path d="M1483.13 2086.8H1493.53M1483.13 2078V2095.6M1493.53 2078V2095.6M1488.33 2081.8V2091.8M1479.53 2081.8H1497.13M1479.53 2091.8H1497.13" stroke="#505050" stroke-width="2.4" fill="none"/>
<path d="M1483.13 2086.8H1493.53M1483.13 2078V2095.6M1493.53 2078V2095.6M1488.33 2081.8V2091.8M1479.53 2081.8H1497.13M1479.53 2091.8H1497.13" stroke="#505050" stroke-width="2.4" fill="none"/>
<path d="M1565.81 2090.3H1576.21M1565.81 2081.5V2099.1M1576.21 2081.5V2099.1M1571.01 2085.3V2095.3M1562.21 2085.3H1579.81M1562.21 2095.3H1579.81" stroke="#505050" stroke-width="2.4" fill="none"/>
<path d="M1565.81 2087.5H1576.21M1565.81 2078.7V2096.3M1576.21 2078.7V2096.3M1571.01 2082.5V2092.5M1562.21 2082.5H1579.81M1562.21 2092.5H1579.81" stroke="#505050" stroke-width="2.4" fill="none"/>
<path d="M1896.52 2062.1H1906.92M1896.52 2053.3V2070.9M1906.92 2053.3V2070.9" stroke="#505050" stroke-width="2.4" fill="none"/>
<path d="M1896.52 2050.4H1906.92M1896.52 2041.6V2059.2M1906.92 2041.6V2059.2" stroke="#505050" stroke-width="2.4" fill="none"/>
</g>
<polygon points="1240.3,2276 1249.65,2294.4 1230.95,2294.4" fill="#000" stroke="#000" stroke-width="2.8" stroke-linejoin="round"/>
<polygon points="1322.98,2238.9 1332.33,2257.3 1313.63,2257.3" fill="#000" stroke="#000" stroke-width="2.8" stroke-linejoin="round"/>
<polygon points="1405.66,2140.5 1415.01,2158.9 1396.31,2158.9" fill="#000" stroke="#000" stroke-width="2.8" stroke-linejoin="round"/>
<polygon points="1488.33,2077.6 1497.68,2096 1478.98,2096" fill="#000" stroke="#000" stroke-width="2.8" stroke-linejoin="round"/>
<polygon points="1571.01,2081.1 1580.36,2099.5 1561.66,2099.5" fill="#000" stroke="#000" stroke-width="2.8" stroke-linejoin="round"/>
<polygon points="1901.72,2052.9 1911.07,2071.3 1892.37,2071.3" fill="#000" stroke="#000" stroke-width="2.8" stroke-linejoin="round"/>
<polygon points="1240.3,2276 1249.65,2294.4 1230.95,2294.4" fill="#fff" stroke="#000" stroke-width="2.8" stroke-linejoin="round"/>
<polygon points="1322.98,2238.9 1332.33,2257.3 1313.63,2257.3" fill="#fff" stroke="#000" stroke-width="2.8" stroke-linejoin="round"/>
<polygon points="1405.66,2148.5 1415.01,2166.9 1396.31,2166.9" fill="#fff" stroke="#000" stroke-width="2.8" stroke-linejoin="round"/>
<polygon points="1488.33,2077.6 1497.68,2096 1478.98,2096" fill="#fff" stroke="#000" stroke-width="2.8" stroke-linejoin="round"/>
<polygon points="1571.01,2078.3 1580.36,2096.7 1561.66,2096.7" fill="#fff" stroke="#000" stroke-width="2.8" stroke-linejoin="round"/>
<polygon points="1901.72,2041.2 1911.07,2059.6 1892.37,2059.6" fill="#fff" stroke="#000" stroke-width="2.8" stroke-linejoin="round"/>
<text x="406.12" y="2432" font-size="41" text-anchor="start" fill="#000" font-family="Carlito, 'Liberation Sans', Arial, sans-serif" textLength="226.38" lengthAdjust="spacingAndGlyphs">Time in hours</text>
<text x="1518.52" y="2435.5" font-size="41" text-anchor="start" fill="#000" font-family="Carlito, 'Liberation Sans', Arial, sans-serif" textLength="226.38" lengthAdjust="spacingAndGlyphs">Time in hours</text>
<polygon points="348.4,2459.1 362.4,2486.8 334.4,2486.8" fill="#000"/>
<text x="389.6" y="2486.7" font-size="41" text-anchor="start" fill="#000" font-family="Carlito, 'Liberation Sans', Arial, sans-serif" textLength="23.16" lengthAdjust="spacingAndGlyphs">Δ</text>
<text x="412.46" y="2486.7" font-size="41" text-anchor="start" fill="#000" font-family="Carlito, 'Liberation Sans', Arial, sans-serif" font-style="italic" textLength="89.53" lengthAdjust="spacingAndGlyphs">nifDK</text>
<path d="M681.95 2462.1 L695.8 2491 L668.1 2491Z M673.82 2487.4 L690.08 2487.4 L681.95 2470.43Z" fill="#000" fill-rule="evenodd"/>
<text x="717" y="2492.1" font-size="41" text-anchor="start" fill="#000" font-family="Carlito, 'Liberation Sans', Arial, sans-serif" textLength="23.16" lengthAdjust="spacingAndGlyphs">Δ</text>
<text x="739.66" y="2492.1" font-size="41" text-anchor="start" fill="#000" font-family="Carlito, 'Liberation Sans', Arial, sans-serif" font-style="italic" textLength="162.05" lengthAdjust="spacingAndGlyphs">rcc02305I</text>
<polygon points="1403.05,2458.8 1417,2485.9 1389.1,2485.9" fill="#000"/>
<text x="1450" y="2489.5" font-size="41" text-anchor="start" fill="#000" font-family="Carlito, 'Liberation Sans', Arial, sans-serif" textLength="23.16" lengthAdjust="spacingAndGlyphs">Δ</text>
<text x="1472.86" y="2489.5" font-size="41" text-anchor="start" fill="#000" font-family="Carlito, 'Liberation Sans', Arial, sans-serif" font-style="italic" textLength="89.53" lengthAdjust="spacingAndGlyphs">nifDK</text>
<path d="M1732.5 2457.4 L1746 2486 L1719 2486Z M1724.68 2482.4 L1740.32 2482.4 L1732.5 2465.83Z" fill="#000" fill-rule="evenodd"/>
<text x="1772.6" y="2486.6" font-size="41" text-anchor="start" fill="#000" font-family="Carlito, 'Liberation Sans', Arial, sans-serif" textLength="23.16" lengthAdjust="spacingAndGlyphs">Δ</text>
<text x="1795.26" y="2486.6" font-size="41" text-anchor="start" fill="#000" font-family="Carlito, 'Liberation Sans', Arial, sans-serif" font-style="italic" textLength="162.05" lengthAdjust="spacingAndGlyphs">rcc02305I</text>
</svg>
</body></html>
